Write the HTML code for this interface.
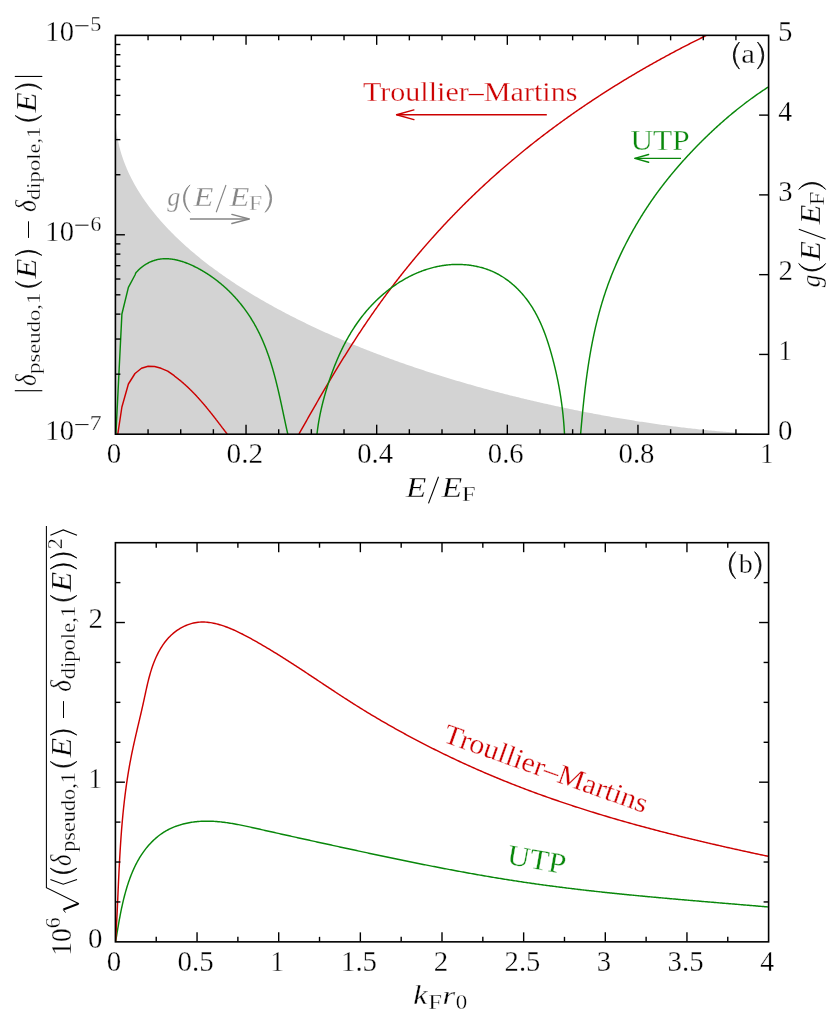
<!DOCTYPE html>
<html><head><meta charset="utf-8"><title>chart</title>
<style>html,body{margin:0;padding:0;background:#fff;width:830px;height:1015px;overflow:hidden;}svg{display:block;will-change:transform;}text{font-family:'Liberation Serif', serif;}</style></head><body>
<svg width="830" height="1015" viewBox="0 0 830 1015">
<rect width="830" height="1015" fill="#fff"/>
<clipPath id="ca"><rect x="115.4" y="35.35" width="653.2" height="398.85"/></clipPath>
<g clip-path="url(#ca)">
<path d="M115.4,434.2 L115.4,115.12 L115.4,115.7 L115.41,116.77 L115.44,118.14 L115.49,119.77 L115.57,121.62 L115.62,122.6 L115.69,123.67 L115.84,125.7 L115.86,125.89 L116.06,128.07 L116.09,128.28 L116.29,130.08 L116.38,130.82 L116.51,131.84 L116.73,133.44 L116.74,133.51 L116.95,134.9 L117.17,136.27 L117.18,136.33 L117.39,137.55 L117.61,138.76 L117.71,139.29 L117.84,139.91 L118.06,141.01 L118.28,142.07 L118.34,142.36 L118.5,143.09 L118.72,144.07 L118.94,145.01 L119.07,145.56 L119.16,145.93 L119.39,146.82 L119.61,147.69 L119.83,148.53 L119.92,148.87 L120.05,149.36 L120.27,150.16 L120.49,150.95 L120.71,151.71 L120.89,152.3 L120.94,152.47 L121.16,153.2 L121.38,153.93 L121.6,154.64 L121.82,155.33 L121.98,155.82 L122.04,156.02 L122.26,156.69 L122.49,157.36 L122.71,158.01 L122.93,158.65 L123.15,159.28 L123.21,159.45 L123.37,159.91 L123.59,160.52 L123.81,161.13 L124.04,161.73 L124.26,162.32 L124.48,162.9 L124.59,163.18 L124.7,163.48 L124.92,164.05 L125.14,164.61 L125.36,165.17 L125.59,165.72 L125.81,166.26 L126.03,166.8 L126.11,167.01 L126.25,167.33 L126.47,167.86 L126.69,168.38 L126.91,168.9 L127.14,169.41 L127.36,169.92 L127.58,170.42 L127.8,170.92 L127.8,170.92 L128.02,171.41 L128.24,171.9 L128.46,172.38 L129.66,174.93 L130.07,175.77 L131.67,178.98 L131.69,179.02 L133.28,182.02 L133.91,183.19 L134.88,184.93 L136.32,187.44 L136.49,187.72 L138.09,190.4 L138.94,191.77 L139.69,192.98 L141.3,195.48 L141.76,196.18 L142.9,197.9 L144.51,200.24 L144.8,200.65 L146.11,202.52 L147.72,204.73 L148.06,205.2 L149.32,206.89 L150.92,209 L152.53,211.05 L154.13,213.06 L155.74,215.03 L157.34,216.95 L158.95,218.84 L160.55,220.69 L162.16,222.5 L163.76,224.28 L165.36,226.03 L166.97,227.75 L168.57,229.44 L170.18,231.1 L171.78,232.74 L173.39,234.35 L174.99,235.94 L176.59,237.5 L178.2,239.04 L179.8,240.56 L181.41,242.06 L183.01,243.54 L184.62,244.99 L186.22,246.43 L187.82,247.86 L189.43,249.26 L191.03,250.65 L192.64,252.02 L194.24,253.37 L195.85,254.71 L197.45,256.03 L199.06,257.34 L200.66,258.64 L202.26,259.92 L203.87,261.19 L205.47,262.44 L207.08,263.68 L208.68,264.91 L210.29,266.13 L211.89,267.33 L213.49,268.52 L215.1,269.7 L216.7,270.87 L218.31,272.03 L219.91,273.18 L221.52,274.32 L223.12,275.45 L224.73,276.57 L226.33,277.67 L227.93,278.77 L229.54,279.86 L231.14,280.94 L232.75,282.01 L234.35,283.07 L235.96,284.13 L237.56,285.17 L239.16,286.21 L240.77,287.23 L242.37,288.25 L243.98,289.27 L245.58,290.27 L247.19,291.27 L248.79,292.25 L250.39,293.24 L252,294.21 L253.6,295.18 L255.21,296.14 L256.81,297.09 L258.42,298.03 L260.02,298.97 L261.63,299.91 L263.23,300.83 L264.83,301.75 L266.44,302.66 L268.04,303.57 L269.65,304.47 L271.25,305.36 L272.86,306.25 L274.46,307.14 L276.06,308.01 L277.67,308.88 L279.27,309.75 L280.88,310.61 L282.48,311.46 L284.09,312.31 L285.69,313.15 L287.29,313.99 L288.9,314.82 L290.5,315.65 L292.11,316.47 L293.71,317.29 L295.32,318.1 L296.92,318.91 L298.53,319.71 L300.13,320.5 L301.73,321.3 L303.34,322.08 L304.94,322.87 L306.55,323.64 L308.15,324.42 L309.76,325.19 L311.36,325.95 L312.96,326.71 L314.57,327.47 L316.17,328.22 L317.78,328.96 L319.38,329.71 L320.99,330.44 L322.59,331.18 L324.19,331.91 L325.8,332.63 L327.4,333.36 L329.01,334.07 L330.61,334.79 L332.22,335.5 L333.82,336.2 L335.43,336.91 L337.03,337.6 L338.63,338.3 L340.24,338.99 L341.84,339.68 L343.45,340.36 L345.05,341.04 L346.66,341.71 L348.26,342.39 L349.86,343.05 L351.47,343.72 L353.07,344.38 L354.68,345.04 L356.28,345.69 L357.89,346.34 L359.49,346.99 L361.09,347.64 L362.7,348.28 L364.3,348.91 L365.91,349.55 L367.51,350.18 L369.12,350.81 L370.72,351.43 L372.33,352.05 L373.93,352.67 L375.53,353.29 L377.14,353.9 L378.74,354.51 L380.35,355.11 L381.95,355.71 L383.56,356.31 L385.16,356.91 L386.76,357.5 L388.37,358.09 L389.97,358.68 L391.58,359.27 L393.18,359.85 L394.79,360.43 L396.39,361 L397.99,361.57 L399.6,362.14 L401.2,362.71 L402.81,363.27 L404.41,363.84 L406.02,364.4 L407.62,364.95 L409.23,365.5 L410.83,366.05 L412.43,366.6 L414.04,367.15 L415.64,367.69 L417.25,368.23 L418.85,368.77 L420.46,369.3 L422.06,369.83 L423.66,370.36 L425.27,370.89 L426.87,371.41 L428.48,371.93 L430.08,372.45 L431.69,372.97 L433.29,373.48 L434.9,373.99 L436.5,374.5 L438.1,375.01 L439.71,375.51 L441.31,376.01 L442.92,376.51 L444.52,377.01 L446.13,377.5 L447.73,377.99 L449.33,378.48 L450.94,378.97 L452.54,379.45 L454.15,379.93 L455.75,380.41 L457.36,380.89 L458.96,381.37 L460.56,381.84 L462.17,382.31 L463.77,382.78 L465.38,383.24 L466.98,383.71 L468.59,384.17 L470.19,384.62 L471.8,385.08 L473.4,385.54 L475,385.99 L476.61,386.44 L478.21,386.88 L479.82,387.33 L481.42,387.77 L483.03,388.21 L484.63,388.65 L486.23,389.09 L487.84,389.52 L489.44,389.96 L491.05,390.39 L492.65,390.81 L494.26,391.24 L495.86,391.66 L497.46,392.08 L499.07,392.5 L500.67,392.92 L502.28,393.33 L503.88,393.75 L505.49,394.16 L507.09,394.57 L508.7,394.97 L510.3,395.38 L511.9,395.78 L513.51,396.18 L515.11,396.58 L516.72,396.98 L518.32,397.37 L519.93,397.76 L521.53,398.15 L523.13,398.54 L524.74,398.93 L526.34,399.31 L527.95,399.69 L529.55,400.07 L531.16,400.45 L532.76,400.83 L534.36,401.2 L535.97,401.57 L537.57,401.94 L539.18,402.31 L540.78,402.68 L542.39,403.04 L543.99,403.4 L545.6,403.76 L547.2,404.12 L548.8,404.48 L550.41,404.83 L552.01,405.19 L553.62,405.54 L555.22,405.88 L556.83,406.23 L558.43,406.58 L560.03,406.92 L561.64,407.26 L563.24,407.6 L564.85,407.93 L566.45,408.27 L568.06,408.6 L569.66,408.93 L571.26,409.26 L572.87,409.59 L574.47,409.92 L576.08,410.24 L577.68,410.56 L579.29,410.88 L580.89,411.2 L582.5,411.51 L584.1,411.83 L585.7,412.14 L587.31,412.45 L588.91,412.76 L590.52,413.06 L592.12,413.37 L593.73,413.67 L595.33,413.97 L596.93,414.27 L598.54,414.57 L600.14,414.86 L601.75,415.16 L603.35,415.45 L604.96,415.74 L606.56,416.02 L608.16,416.31 L609.77,416.59 L611.37,416.88 L612.98,417.16 L614.58,417.43 L616.19,417.71 L617.79,417.98 L619.4,418.26 L621,418.53 L622.6,418.8 L624.21,419.06 L625.81,419.33 L627.42,419.59 L629.02,419.85 L630.63,420.11 L632.23,420.37 L633.83,420.62 L635.44,420.88 L637.04,421.13 L638.65,421.38 L640.25,421.63 L641.86,421.87 L643.46,422.12 L645.06,422.36 L646.67,422.6 L648.27,422.84 L649.88,423.07 L651.48,423.31 L653.09,423.54 L654.69,423.77 L656.3,424 L657.9,424.22 L659.5,424.45 L661.11,424.67 L662.71,424.89 L664.32,425.11 L665.92,425.32 L667.53,425.54 L669.13,425.75 L670.73,425.96 L672.34,426.17 L673.94,426.38 L675.55,426.58 L677.15,426.78 L678.76,426.98 L680.36,427.18 L681.97,427.38 L683.57,427.57 L685.17,427.76 L686.78,427.95 L688.38,428.14 L689.99,428.33 L691.59,428.51 L693.2,428.69 L694.8,428.87 L696.4,429.05 L698.01,429.22 L699.61,429.4 L701.22,429.57 L702.82,429.73 L704.43,429.9 L706.03,430.06 L707.63,430.22 L709.24,430.38 L710.84,430.54 L712.45,430.69 L714.05,430.85 L715.66,431 L717.26,431.14 L718.87,431.29 L720.47,431.43 L722.07,431.57 L723.68,431.71 L725.28,431.84 L726.89,431.97 L728.49,432.1 L730.1,432.23 L731.7,432.35 L733.3,432.47 L734.91,432.59 L736.51,432.7 L738.12,432.82 L739.72,432.92 L741.33,433.03 L742.93,433.13 L744.53,433.23 L746.14,433.33 L747.74,433.42 L749.35,433.51 L750.95,433.59 L752.56,433.67 L754.16,433.75 L755.77,433.82 L757.37,433.89 L758.97,433.96 L760.58,434.02 L762.18,434.07 L763.79,434.11 L765.39,434.15 L767,434.18 L768.6,434.2 L768.6,434.2Z" fill="#d3d3d3" stroke="none"/>
<path d="M117.8,434.2 L121.9,407 L128.4,384 L135,373.5 L141.5,368.2 L148.1,366.3 L154.6,366.5 L161.1,368.3 L167.7,371.1 L174.2,375.7 L174.83,376.34 L175.03,376.49 L175.23,376.64 L175.43,376.79 L175.63,376.93 L175.83,377.08 L176.02,377.23 L176.22,377.38 L176.42,377.53 L176.62,377.68 L176.81,377.83 L177.01,377.98 L177.2,378.13 L177.4,378.29 L177.59,378.44 L177.79,378.59 L177.98,378.74 L178.18,378.9 L178.37,379.05 L178.57,379.2 L178.76,379.36 L178.95,379.51 L179.15,379.67 L179.34,379.82 L179.53,379.98 L179.72,380.13 L179.91,380.29 L180.1,380.44 L180.3,380.6 L180.49,380.76 L180.68,380.91 L180.87,381.07 L181.06,381.23 L181.25,381.39 L181.43,381.55 L181.62,381.71 L181.81,381.86 L182,382.02 L182.19,382.18 L182.38,382.34 L182.56,382.5 L182.75,382.67 L182.94,382.83 L183.12,382.99 L183.31,383.15 L183.5,383.31 L183.68,383.47 L183.87,383.64 L184.05,383.8 L184.24,383.96 L184.42,384.13 L184.61,384.29 L184.79,384.45 L184.98,384.62 L185.16,384.78 L185.34,384.95 L185.52,385.11 L185.71,385.28 L185.89,385.44 L186.07,385.61 L186.25,385.78 L186.44,385.94 L186.62,386.11 L186.8,386.28 L186.98,386.45 L187.16,386.61 L187.34,386.78 L187.52,386.95 L187.7,387.12 L187.88,387.29 L188.06,387.46 L188.24,387.63 L188.42,387.8 L188.6,387.97 L188.78,388.14 L188.95,388.31 L189.13,388.48 L189.31,388.65 L189.49,388.82 L189.66,388.99 L189.84,389.16 L190.02,389.34 L190.19,389.51 L190.37,389.68 L190.55,389.85 L190.72,390.03 L190.9,390.2 L191.07,390.37 L191.25,390.55 L191.42,390.72 L191.6,390.9 L191.77,391.07 L191.94,391.24 L192.12,391.42 L192.29,391.6 L192.47,391.77 L192.64,391.95 L192.81,392.12 L192.98,392.3 L193.16,392.48 L193.33,392.65 L193.5,392.83 L193.67,393.01 L193.84,393.18 L194.02,393.36 L194.19,393.54 L194.36,393.72 L194.53,393.89 L194.7,394.07 L194.87,394.25 L195.04,394.43 L195.21,394.61 L195.38,394.79 L195.55,394.97 L195.72,395.15 L195.89,395.33 L196.06,395.51 L196.22,395.69 L196.39,395.87 L196.56,396.05 L196.73,396.23 L196.9,396.41 L197.06,396.59 L197.23,396.78 L197.4,396.96 L197.57,397.14 L197.73,397.32 L197.9,397.5 L198.06,397.69 L198.23,397.87 L198.4,398.05 L198.56,398.24 L198.73,398.42 L198.89,398.6 L199.06,398.79 L199.22,398.97 L199.39,399.15 L199.55,399.34 L199.72,399.52 L199.88,399.71 L200.05,399.89 L200.21,400.08 L200.37,400.26 L200.54,400.45 L200.7,400.63 L200.86,400.82 L201.03,401 L201.19,401.19 L201.35,401.37 L201.52,401.56 L201.68,401.75 L201.84,401.93 L202,402.12 L202.16,402.31 L202.33,402.49 L202.49,402.68 L202.65,402.87 L202.81,403.06 L202.97,403.24 L203.13,403.43 L203.29,403.62 L203.45,403.81 L203.61,404 L203.77,404.18 L203.93,404.37 L204.09,404.56 L204.25,404.75 L204.41,404.94 L204.57,405.13 L204.73,405.32 L204.89,405.51 L205.05,405.7 L205.21,405.88 L205.37,406.07 L205.52,406.26 L205.68,406.45 L205.84,406.64 L206,406.83 L206.16,407.02 L206.32,407.22 L206.47,407.41 L206.63,407.6 L206.79,407.79 L206.94,407.98 L207.1,408.17 L207.26,408.36 L207.42,408.55 L207.57,408.74 L207.73,408.93 L207.89,409.13 L208.04,409.32 L208.2,409.51 L208.35,409.7 L208.51,409.89 L208.66,410.08 L208.82,410.28 L208.98,410.47 L209.13,410.66 L209.29,410.85 L209.44,411.05 L209.6,411.24 L209.75,411.43 L209.91,411.62 L210.06,411.82 L210.22,412.01 L210.37,412.2 L210.52,412.4 L210.68,412.59 L210.83,412.78 L210.99,412.97 L211.14,413.17 L211.29,413.36 L211.45,413.56 L211.6,413.75 L211.75,413.94 L211.91,414.14 L212.06,414.33 L212.21,414.52 L212.37,414.72 L212.52,414.91 L212.67,415.11 L212.82,415.3 L212.98,415.49 L213.13,415.69 L213.28,415.88 L213.43,416.08 L213.59,416.27 L213.74,416.47 L213.89,416.66 L214.04,416.86 L214.19,417.05 L214.34,417.24 L214.5,417.44 L214.65,417.63 L214.8,417.83 L214.95,418.02 L215.1,418.22 L215.25,418.41 L215.4,418.61 L215.55,418.8 L215.71,419 L215.86,419.19 L216.01,419.39 L216.16,419.58 L216.31,419.78 L216.46,419.97 L216.61,420.17 L216.76,420.36 L216.91,420.56 L217.06,420.75 L217.21,420.95 L217.36,421.15 L217.51,421.34 L217.66,421.54 L217.81,421.73 L217.96,421.93 L218.11,422.12 L218.26,422.32 L218.41,422.51 L218.56,422.71 L218.71,422.9 L218.86,423.1 L219.01,423.29 L219.15,423.49 L219.3,423.69 L219.45,423.88 L219.6,424.08 L219.75,424.27 L219.9,424.47 L220.05,424.66 L220.2,424.86 L220.35,425.05 L220.5,425.25 L220.64,425.44 L220.79,425.64 L220.94,425.83 L221.09,426.03 L221.24,426.22 L221.39,426.42 L221.54,426.62 L221.68,426.81 L221.83,427.01 L221.98,427.2 L222.13,427.4 L222.28,427.59 L222.42,427.79 L222.57,427.98 L222.72,428.18 L222.87,428.37 L223.02,428.57 L223.17,428.76 L223.31,428.96 L223.46,429.15 L223.61,429.35 L223.76,429.54 L223.9,429.74 L224.05,429.93 L224.2,430.12 L224.35,430.32 L224.5,430.51 L224.64,430.71 L224.79,430.9 L224.94,431.1 L225.09,431.29 L225.23,431.49 L225.38,431.68 L225.53,431.87 L225.68,432.07 L225.83,432.26 L225.97,432.46 L226.12,432.65 L226.27,432.84 L226.42,433.04 L226.56,433.23 L226.71,433.43 L226.86,433.62 L227.01,433.81 L227.15,434.01 L227.3,434.2" fill="none" stroke="#cc0000" stroke-width="1.45" stroke-linejoin="round" stroke-linecap="butt"/>
<path d="M299,434 L299.58,432.98 L300.15,431.96 L300.72,430.94 L301.3,429.93 L301.87,428.91 L302.44,427.89 L303.02,426.87 L303.59,425.85 L304.17,424.83 L304.74,423.82 L305.32,422.8 L305.89,421.78 L306.47,420.77 L307.05,419.75 L307.62,418.73 L308.2,417.72 L308.78,416.7 L309.35,415.69 L309.93,414.67 L310.51,413.66 L311.09,412.64 L311.67,411.63 L312.25,410.61 L312.83,409.6 L313.41,408.59 L313.99,407.57 L314.57,406.56 L315.15,405.55 L315.73,404.54 L316.31,403.53 L316.9,402.51 L317.48,401.5 L318.06,400.49 L318.65,399.48 L319.23,398.47 L319.82,397.46 L320.4,396.46 L320.99,395.45 L321.58,394.44 L322.16,393.43 L322.75,392.43 L323.34,391.42 L323.93,390.41 L324.52,389.41 L325.11,388.4 L325.7,387.4 L326.29,386.39 L326.88,385.39 L327.48,384.38 L328.07,383.38 L328.66,382.38 L329.26,381.38 L329.85,380.38 L330.45,379.37 L331.05,378.37 L331.64,377.37 L332.24,376.37 L332.84,375.38 L333.44,374.38 L334.04,373.38 L334.64,372.38 L335.24,371.39 L335.84,370.39 L336.45,369.39 L337.05,368.4 L337.66,367.4 L338.26,366.41 L338.87,365.42 L339.48,364.42 L340.08,363.43 L340.69,362.44 L341.3,361.45 L341.91,360.46 L342.53,359.47 L343.14,358.48 L343.75,357.49 L344.37,356.5 L344.98,355.52 L345.6,354.53 L346.21,353.54 L346.83,352.56 L347.45,351.57 L348.07,350.59 L348.69,349.61 L349.31,348.62 L349.94,347.64 L350.56,346.66 L351.19,345.68 L351.81,344.7 L352.44,343.72 L353.07,342.74 L353.69,341.77 L354.32,340.79 L354.96,339.81 L355.59,338.84 L356.22,337.86 L356.86,336.89 L357.49,335.92 L358.13,334.94 L358.77,333.97 L359.4,333 L360.04,332.03 L360.69,331.06 L361.33,330.09 L361.97,329.13 L362.62,328.16 L363.26,327.19 L363.91,326.23 L364.56,325.26 L365.21,324.3 L365.86,323.34 L366.51,322.38 L367.16,321.42 L367.82,320.46 L368.47,319.5 L369.13,318.54 L369.79,317.58 L370.45,316.62 L371.11,315.67 L371.77,314.71 L372.43,313.76 L373.1,312.81 L373.76,311.85 L374.43,310.9 L375.1,309.95 L375.77,309 L376.44,308.05 L377.12,307.11 L377.79,306.16 L378.47,305.21 L379.14,304.27 L379.82,303.33 L380.5,302.38 L381.18,301.44 L381.86,300.5 L382.55,299.56 L383.23,298.62 L383.92,297.68 L384.61,296.75 L385.3,295.81 L385.99,294.87 L386.68,293.94 L387.38,293.01 L388.07,292.07 L388.77,291.14 L389.46,290.21 L390.16,289.28 L390.86,288.35 L391.57,287.43 L392.27,286.5 L392.97,285.58 L393.68,284.65 L394.39,283.73 L395.09,282.81 L395.8,281.88 L396.52,280.96 L397.23,280.04 L397.94,279.13 L398.66,278.21 L399.37,277.29 L400.09,276.38 L400.81,275.46 L401.53,274.55 L402.25,273.64 L402.98,272.73 L403.7,271.82 L404.43,270.91 L405.16,270 L405.88,269.09 L406.61,268.19 L407.35,267.28 L408.08,266.38 L408.81,265.47 L409.55,264.57 L410.28,263.67 L411.02,262.77 L411.76,261.87 L412.5,260.97 L413.24,260.08 L413.99,259.18 L414.73,258.29 L415.48,257.39 L416.22,256.5 L416.97,255.61 L417.72,254.72 L418.47,253.83 L419.23,252.94 L419.98,252.06 L420.74,251.17 L421.49,250.29 L422.25,249.4 L423.01,248.52 L423.77,247.64 L424.53,246.76 L425.29,245.88 L426.06,245 L426.82,244.12 L427.59,243.25 L428.36,242.37 L429.13,241.5 L429.9,240.63 L430.67,239.76 L431.44,238.89 L432.22,238.02 L432.99,237.15 L433.77,236.28 L434.55,235.42 L435.33,234.55 L436.11,233.69 L436.89,232.83 L437.67,231.96 L438.46,231.1 L439.25,230.25 L440.03,229.39 L440.82,228.53 L441.61,227.68 L442.4,226.82 L443.19,225.97 L443.99,225.12 L444.78,224.27 L445.58,223.42 L446.38,222.57 L447.18,221.72 L447.98,220.87 L448.78,220.03 L449.58,219.19 L450.38,218.34 L451.19,217.5 L451.99,216.66 L452.8,215.82 L453.61,214.99 L454.42,214.15 L455.23,213.31 L456.04,212.48 L456.86,211.65 L457.67,210.81 L458.49,209.98 L459.31,209.15 L460.13,208.33 L460.95,207.5 L461.77,206.67 L462.59,205.85 L463.41,205.03 L464.24,204.2 L465.07,203.38 L465.89,202.56 L466.72,201.75 L467.55,200.93 L468.38,200.11 L469.22,199.3 L470.05,198.49 L470.88,197.67 L471.72,196.86 L472.56,196.05 L473.4,195.24 L474.24,194.44 L475.08,193.63 L475.92,192.83 L476.76,192.02 L477.61,191.22 L478.45,190.42 L479.3,189.62 L480.15,188.82 L481,188.03 L481.85,187.23 L482.7,186.44 L483.55,185.64 L484.41,184.85 L485.26,184.06 L486.12,183.27 L486.98,182.48 L487.84,181.7 L488.7,180.91 L489.56,180.13 L490.42,179.34 L491.28,178.56 L492.15,177.78 L493.02,177 L493.88,176.23 L494.75,175.45 L495.62,174.67 L496.49,173.9 L497.36,173.13 L498.24,172.36 L499.11,171.59 L499.99,170.82 L500.86,170.05 L501.74,169.28 L502.62,168.52 L503.5,167.75 L504.38,166.99 L505.26,166.23 L506.14,165.47 L507.03,164.71 L507.91,163.95 L508.8,163.2 L509.69,162.44 L510.57,161.69 L511.46,160.93 L512.36,160.18 L513.25,159.43 L514.14,158.68 L515.03,157.94 L515.93,157.19 L516.83,156.44 L517.72,155.7 L518.62,154.96 L519.52,154.22 L520.42,153.48 L521.32,152.74 L522.22,152 L523.13,151.26 L524.03,150.53 L524.94,149.79 L525.84,149.06 L526.75,148.33 L527.66,147.6 L528.57,146.87 L529.48,146.14 L530.39,145.42 L531.31,144.69 L532.22,143.97 L533.13,143.25 L534.05,142.52 L534.97,141.8 L535.89,141.09 L536.8,140.37 L537.72,139.65 L538.65,138.94 L539.57,138.22 L540.49,137.51 L541.41,136.8 L542.34,136.09 L543.26,135.38 L544.19,134.67 L545.12,133.97 L546.05,133.26 L546.98,132.56 L547.91,131.85 L548.84,131.15 L549.77,130.45 L550.71,129.75 L551.64,129.06 L552.58,128.36 L553.51,127.66 L554.45,126.97 L555.39,126.28 L556.33,125.59 L557.27,124.9 L558.21,124.21 L559.15,123.52 L560.09,122.83 L561.04,122.15 L561.98,121.46 L562.93,120.78 L563.87,120.1 L564.82,119.42 L565.77,118.74 L566.72,118.06 L567.67,117.39 L568.62,116.71 L569.57,116.04 L570.52,115.36 L571.48,114.69 L572.43,114.02 L573.39,113.35 L574.34,112.68 L575.3,112.02 L576.26,111.35 L577.22,110.69 L578.18,110.02 L579.14,109.36 L580.1,108.7 L581.06,108.04 L582.02,107.38 L582.99,106.73 L583.95,106.07 L584.92,105.42 L585.88,104.76 L586.85,104.11 L587.82,103.46 L588.79,102.81 L589.76,102.16 L590.73,101.52 L591.7,100.87 L592.67,100.23 L593.64,99.58 L594.62,98.94 L595.59,98.3 L596.57,97.66 L597.54,97.02 L598.52,96.38 L599.5,95.75 L600.47,95.11 L601.45,94.48 L602.43,93.85 L603.41,93.22 L604.4,92.59 L605.38,91.96 L606.36,91.33 L607.35,90.7 L608.33,90.08 L609.32,89.46 L610.3,88.83 L611.29,88.21 L612.28,87.59 L613.26,86.97 L614.25,86.35 L615.24,85.74 L616.23,85.12 L617.22,84.51 L618.22,83.9 L619.21,83.28 L620.2,82.67 L621.2,82.07 L622.19,81.46 L623.19,80.85 L624.18,80.24 L625.18,79.64 L626.18,79.04 L627.17,78.44 L628.17,77.83 L629.17,77.24 L630.17,76.64 L631.17,76.04 L632.18,75.44 L633.18,74.85 L634.18,74.26 L635.18,73.66 L636.19,73.07 L637.19,72.48 L638.2,71.89 L639.21,71.31 L640.21,70.72 L641.22,70.14 L642.23,69.55 L643.24,68.97 L644.25,68.39 L645.26,67.81 L646.27,67.23 L647.28,66.65 L648.29,66.08 L649.3,65.5 L650.32,64.93 L651.33,64.35 L652.35,63.78 L653.36,63.21 L654.38,62.64 L655.39,62.07 L656.41,61.51 L657.43,60.94 L658.44,60.38 L659.46,59.81 L660.48,59.25 L661.5,58.69 L662.52,58.13 L663.54,57.57 L664.57,57.02 L665.59,56.46 L666.61,55.9 L667.63,55.35 L668.66,54.8 L669.68,54.25 L670.71,53.7 L671.73,53.15 L672.76,52.6 L673.78,52.05 L674.81,51.51 L675.84,50.96 L676.87,50.42 L677.9,49.88 L678.92,49.34 L679.95,48.8 L680.98,48.26 L682.01,47.73 L683.05,47.19 L684.08,46.66 L685.11,46.12 L686.14,45.59 L687.18,45.06 L688.21,44.53 L689.24,44 L690.28,43.47 L691.31,42.95 L692.35,42.42 L693.39,41.9 L694.42,41.38 L695.46,40.85 L696.5,40.33 L697.54,39.82 L698.57,39.3 L699.61,38.78 L700.65,38.27 L701.69,37.75 L702.73,37.24 L703.77,36.73 L704.81,36.22 L705.86,35.71 L706.9,35.2" fill="none" stroke="#cc0000" stroke-width="1.45" stroke-linejoin="round" stroke-linecap="butt"/>
<path d="M115.9,434.2 L121.9,314 L128.4,287.4 L135,275 L135.76,273.04 L136.16,272.57 L136.57,272.09 L136.98,271.63 L137.4,271.17 L137.83,270.72 L138.26,270.28 L138.7,269.84 L139.15,269.41 L139.61,268.99 L140.07,268.57 L140.54,268.16 L141.01,267.76 L141.49,267.37 L141.97,266.98 L142.46,266.61 L142.96,266.24 L143.46,265.87 L143.96,265.52 L144.47,265.18 L144.99,264.84 L145.51,264.51 L146.03,264.19 L146.56,263.88 L147.09,263.57 L147.62,263.28 L148.16,262.99 L148.7,262.71 L149.25,262.44 L149.8,262.18 L150.35,261.93 L150.9,261.69 L151.46,261.46 L152.01,261.23 L152.58,261.02 L153.14,260.82 L153.7,260.62 L154.27,260.44 L154.84,260.26 L155.4,260.09 L155.97,259.94 L156.55,259.79 L157.12,259.66 L157.69,259.53 L158.27,259.41 L158.84,259.31 L159.42,259.21 L159.99,259.12 L160.57,259.04 L161.15,258.97 L161.73,258.9 L162.31,258.85 L162.89,258.81 L163.47,258.77 L164.06,258.74 L164.64,258.72 L165.22,258.71 L165.81,258.71 L166.39,258.72 L166.98,258.73 L167.56,258.75 L168.15,258.78 L168.74,258.82 L169.32,258.86 L169.91,258.91 L170.5,258.97 L171.08,259.04 L171.67,259.11 L172.26,259.19 L172.85,259.28 L173.44,259.38 L174.03,259.48 L174.62,259.58 L175.2,259.7 L175.79,259.82 L176.38,259.95 L176.97,260.08 L177.56,260.22 L178.15,260.37 L178.73,260.52 L179.32,260.68 L179.91,260.84 L180.5,261.01 L181.09,261.18 L181.67,261.36 L182.26,261.55 L182.84,261.74 L183.43,261.93 L184.02,262.13 L184.6,262.34 L185.18,262.55 L185.77,262.77 L186.35,262.99 L186.93,263.21 L187.51,263.44 L188.09,263.67 L188.67,263.91 L189.25,264.15 L189.83,264.4 L190.41,264.64 L190.99,264.9 L191.56,265.15 L192.14,265.42 L192.71,265.68 L193.28,265.95 L193.86,266.22 L194.43,266.5 L195,266.77 L195.56,267.06 L196.13,267.34 L196.7,267.63 L197.26,267.92 L197.83,268.22 L198.39,268.52 L198.95,268.82 L199.51,269.13 L200.07,269.43 L200.62,269.75 L201.18,270.06 L201.73,270.38 L202.28,270.7 L202.83,271.02 L203.38,271.35 L203.93,271.68 L204.48,272.01 L205.02,272.34 L205.56,272.68 L206.1,273.02 L206.64,273.36 L207.18,273.7 L207.71,274.05 L208.24,274.4 L208.77,274.75 L209.3,275.1 L209.83,275.46 L210.35,275.81 L210.88,276.17 L211.4,276.53 L211.92,276.9 L212.43,277.26 L212.95,277.63 L213.46,278 L213.97,278.37 L214.48,278.75 L214.98,279.12 L215.49,279.5 L215.99,279.88 L216.49,280.26 L216.98,280.64 L217.48,281.03 L217.97,281.42 L218.46,281.81 L218.95,282.2 L219.44,282.59 L219.93,282.99 L220.41,283.38 L220.89,283.78 L221.37,284.18 L221.84,284.59 L222.32,284.99 L222.79,285.4 L223.26,285.81 L223.73,286.22 L224.2,286.63 L224.66,287.04 L225.12,287.46 L225.58,287.88 L226.04,288.3 L226.5,288.72 L226.95,289.14 L227.4,289.56 L227.85,289.99 L228.3,290.42 L228.75,290.85 L229.19,291.28 L229.63,291.71 L230.07,292.15 L230.51,292.59 L230.94,293.03 L231.38,293.47 L231.81,293.91 L232.24,294.35 L232.66,294.8 L233.09,295.24 L233.51,295.69 L233.93,296.14 L234.35,296.6 L234.77,297.05 L235.18,297.5 L235.59,297.96 L236,298.42 L236.41,298.88 L236.82,299.34 L237.22,299.8 L237.62,300.27 L238.02,300.74 L238.42,301.2 L238.82,301.67 L239.21,302.14 L239.6,302.62 L239.99,303.09 L240.38,303.57 L240.77,304.04 L241.15,304.52 L241.53,305 L241.91,305.48 L242.29,305.97 L242.66,306.45 L243.04,306.94 L243.41,307.43 L243.78,307.91 L244.14,308.4 L244.51,308.9 L244.87,309.39 L245.23,309.88 L245.59,310.38 L245.95,310.88 L246.3,311.38 L246.66,311.88 L247.01,312.38 L247.36,312.88 L247.7,313.38 L248.05,313.89 L248.39,314.4 L248.73,314.9 L249.07,315.41 L249.4,315.92 L249.74,316.44 L250.07,316.95 L250.4,317.46 L250.73,317.98 L251.06,318.5 L251.38,319.01 L251.7,319.53 L252.02,320.05 L252.34,320.58 L252.66,321.1 L252.97,321.62 L253.28,322.15 L253.59,322.68 L253.9,323.2 L254.21,323.73 L254.51,324.26 L254.81,324.79 L255.11,325.33 L255.41,325.86 L255.7,326.39 L256,326.93 L256.29,327.47 L256.58,328 L256.86,328.54 L257.15,329.08 L257.43,329.63 L257.71,330.17 L257.99,330.71 L258.27,331.26 L258.55,331.8 L258.82,332.35 L259.09,332.9 L259.36,333.44 L259.63,333.99 L259.89,334.54 L260.16,335.1 L260.42,335.65 L260.68,336.2 L260.93,336.76 L261.19,337.31 L261.44,337.87 L261.69,338.42 L261.94,338.98 L262.19,339.54 L262.44,340.1 L262.68,340.66 L262.93,341.22 L263.17,341.79 L263.41,342.35 L263.64,342.91 L263.88,343.48 L264.11,344.05 L264.34,344.61 L264.57,345.18 L264.8,345.75 L265.03,346.32 L265.26,346.89 L265.48,347.46 L265.7,348.03 L265.92,348.6 L266.14,349.18 L266.36,349.75 L266.57,350.33 L266.79,350.9 L267,351.48 L267.21,352.06 L267.42,352.63 L267.63,353.21 L267.84,353.79 L268.04,354.37 L268.24,354.95 L268.45,355.53 L268.65,356.11 L268.85,356.7 L269.04,357.28 L269.24,357.86 L269.44,358.45 L269.63,359.03 L269.82,359.62 L270.01,360.21 L270.2,360.79 L270.39,361.38 L270.58,361.97 L270.76,362.56 L270.95,363.15 L271.13,363.74 L271.31,364.33 L271.49,364.92 L271.67,365.51 L271.85,366.1 L272.03,366.69 L272.21,367.29 L272.38,367.88 L272.55,368.47 L272.73,369.07 L272.9,369.66 L273.07,370.26 L273.24,370.85 L273.41,371.45 L273.57,372.05 L273.74,372.64 L273.91,373.24 L274.07,373.84 L274.23,374.44 L274.39,375.04 L274.56,375.63 L274.72,376.23 L274.88,376.83 L275.03,377.43 L275.19,378.03 L275.35,378.64 L275.5,379.24 L275.66,379.84 L275.81,380.44 L275.97,381.04 L276.12,381.64 L276.27,382.25 L276.42,382.85 L276.57,383.45 L276.72,384.06 L276.87,384.66 L277.01,385.26 L277.16,385.87 L277.31,386.47 L277.45,387.08 L277.6,387.68 L277.74,388.29 L277.89,388.89 L278.03,389.5 L278.17,390.1 L278.31,390.71 L278.45,391.32 L278.59,391.92 L278.73,392.53 L278.87,393.13 L279.01,393.74 L279.15,394.35 L279.29,394.95 L279.42,395.56 L279.56,396.17 L279.7,396.77 L279.83,397.38 L279.97,397.99 L280.1,398.6 L280.24,399.2 L280.37,399.81 L280.5,400.42 L280.64,401.02 L280.77,401.63 L280.9,402.24 L281.04,402.85 L281.17,403.45 L281.3,404.06 L281.43,404.67 L281.56,405.27 L281.69,405.88 L281.82,406.49 L281.95,407.1 L282.08,407.7 L282.21,408.31 L282.34,408.92 L282.47,409.52 L282.6,410.13 L282.73,410.74 L282.86,411.34 L282.99,411.95 L283.12,412.55 L283.25,413.16 L283.37,413.77 L283.5,414.37 L283.63,414.98 L283.76,415.58 L283.89,416.19 L284.02,416.79 L284.14,417.4 L284.27,418 L284.4,418.6 L284.53,419.21 L284.66,419.81 L284.79,420.41 L284.92,421.02 L285.05,421.62 L285.17,422.22 L285.3,422.83 L285.43,423.43 L285.56,424.03 L285.69,424.63 L285.82,425.23 L285.95,425.83 L286.08,426.43 L286.21,427.03 L286.34,427.63 L286.47,428.23 L286.6,428.83 L286.74,429.43 L286.87,430.03 L287,430.62 L287.13,431.22 L287.27,431.82 L287.4,432.41 L287.53,433.01 L287.67,433.6 L287.8,434.2" fill="none" stroke="#08870a" stroke-width="1.45" stroke-linejoin="round" stroke-linecap="butt"/>
<path d="M317,434.2 L317.1,433.29 L317.2,432.39 L317.31,431.48 L317.42,430.57 L317.53,429.67 L317.65,428.76 L317.78,427.85 L317.91,426.94 L318.04,426.03 L318.17,425.13 L318.31,424.22 L318.46,423.31 L318.61,422.4 L318.76,421.49 L318.92,420.58 L319.08,419.68 L319.24,418.77 L319.41,417.86 L319.58,416.95 L319.76,416.04 L319.94,415.14 L320.12,414.23 L320.31,413.32 L320.5,412.41 L320.69,411.51 L320.89,410.6 L321.09,409.69 L321.29,408.79 L321.5,407.88 L321.71,406.97 L321.93,406.07 L322.15,405.16 L322.37,404.26 L322.59,403.35 L322.82,402.45 L323.05,401.55 L323.29,400.65 L323.52,399.74 L323.76,398.84 L324.01,397.94 L324.25,397.04 L324.5,396.14 L324.76,395.24 L325.01,394.34 L325.27,393.45 L325.53,392.55 L325.79,391.65 L326.06,390.76 L326.33,389.86 L326.6,388.97 L326.88,388.08 L327.15,387.18 L327.43,386.29 L327.71,385.4 L328,384.51 L328.29,383.62 L328.58,382.74 L328.87,381.85 L329.16,380.97 L329.46,380.08 L329.76,379.2 L330.06,378.32 L330.36,377.44 L330.67,376.56 L330.98,375.68 L331.29,374.8 L331.61,373.92 L331.92,373.05 L332.24,372.17 L332.56,371.3 L332.89,370.43 L333.22,369.56 L333.55,368.69 L333.88,367.83 L334.21,366.96 L334.55,366.1 L334.89,365.23 L335.24,364.37 L335.59,363.51 L335.94,362.66 L336.29,361.8 L336.65,360.94 L337,360.09 L337.37,359.24 L337.73,358.39 L338.1,357.54 L338.47,356.69 L338.84,355.85 L339.22,355.01 L339.6,354.16 L339.99,353.32 L340.37,352.49 L340.76,351.65 L341.16,350.82 L341.56,349.98 L341.96,349.15 L342.36,348.32 L342.77,347.5 L343.18,346.67 L343.59,345.85 L344.01,345.03 L344.43,344.21 L344.86,343.4 L345.28,342.58 L345.72,341.77 L346.15,340.96 L346.59,340.15 L347.03,339.35 L347.48,338.54 L347.93,337.74 L348.38,336.94 L348.84,336.15 L349.3,335.35 L349.77,334.56 L350.24,333.77 L350.71,332.98 L351.19,332.2 L351.67,331.42 L352.15,330.64 L352.64,329.86 L353.13,329.08 L353.63,328.31 L354.13,327.54 L354.64,326.77 L355.15,326.01 L355.66,325.25 L356.18,324.49 L356.7,323.73 L357.23,322.98 L357.76,322.23 L358.29,321.48 L358.83,320.73 L359.37,319.99 L359.92,319.25 L360.47,318.51 L361.03,317.78 L361.59,317.04 L362.16,316.31 L362.73,315.59 L363.3,314.87 L363.88,314.15 L364.46,313.43 L365.05,312.72 L365.64,312 L366.24,311.3 L366.84,310.59 L367.45,309.89 L368.06,309.19 L368.68,308.5 L369.3,307.81 L369.92,307.12 L370.55,306.43 L371.19,305.75 L371.82,305.07 L372.47,304.4 L373.11,303.73 L373.77,303.06 L374.42,302.4 L375.08,301.74 L375.75,301.08 L376.41,300.43 L377.09,299.78 L377.76,299.14 L378.44,298.5 L379.13,297.87 L379.82,297.24 L380.51,296.61 L381.21,295.99 L381.91,295.37 L382.62,294.75 L383.32,294.15 L384.04,293.54 L384.75,292.94 L385.47,292.35 L386.2,291.76 L386.93,291.17 L387.66,290.59 L388.39,290.01 L389.13,289.44 L389.88,288.87 L390.62,288.31 L391.37,287.76 L392.13,287.2 L392.88,286.66 L393.64,286.12 L394.41,285.58 L395.18,285.05 L395.95,284.53 L396.72,284.01 L397.5,283.49 L398.28,282.99 L399.06,282.48 L399.85,281.99 L400.64,281.49 L401.44,281.01 L402.23,280.53 L403.03,280.06 L403.84,279.59 L404.64,279.13 L405.45,278.67 L406.27,278.22 L407.08,277.78 L407.9,277.34 L408.72,276.91 L409.55,276.48 L410.37,276.07 L411.21,275.65 L412.04,275.25 L412.87,274.85 L413.71,274.46 L414.55,274.07 L415.4,273.69 L416.24,273.32 L417.09,272.95 L417.95,272.6 L418.8,272.24 L419.66,271.9 L420.52,271.56 L421.38,271.23 L422.24,270.91 L423.11,270.59 L423.98,270.28 L424.85,269.98 L425.73,269.69 L426.6,269.4 L427.48,269.12 L428.36,268.85 L429.25,268.58 L430.13,268.33 L431.02,268.08 L431.91,267.84 L432.8,267.6 L433.7,267.38 L434.59,267.16 L435.49,266.95 L436.39,266.75 L437.29,266.55 L438.2,266.37 L439.1,266.19 L440.01,266.02 L440.92,265.86 L441.83,265.71 L442.75,265.56 L443.66,265.43 L444.58,265.3 L445.5,265.18 L446.42,265.07 L447.34,264.97 L448.26,264.88 L449.19,264.79 L450.11,264.72 L451.04,264.65 L451.97,264.59 L452.9,264.54 L453.83,264.5 L454.76,264.47 L455.69,264.45 L456.62,264.44 L457.55,264.43 L458.48,264.44 L459.42,264.45 L460.35,264.47 L461.28,264.51 L462.21,264.55 L463.14,264.6 L464.07,264.66 L465,264.72 L465.93,264.8 L466.86,264.89 L467.79,264.99 L468.71,265.09 L469.63,265.21 L470.56,265.33 L471.48,265.46 L472.4,265.61 L473.31,265.76 L474.23,265.92 L475.14,266.09 L476.05,266.27 L476.96,266.47 L477.86,266.67 L478.77,266.88 L479.67,267.1 L480.56,267.33 L481.46,267.56 L482.35,267.81 L483.24,268.07 L484.12,268.34 L485,268.62 L485.88,268.91 L486.75,269.2 L487.62,269.51 L488.48,269.83 L489.34,270.16 L490.2,270.5 L491.05,270.84 L491.9,271.2 L492.74,271.57 L493.58,271.95 L494.41,272.34 L495.24,272.73 L496.06,273.14 L496.87,273.56 L497.69,273.99 L498.49,274.43 L499.29,274.87 L500.09,275.33 L500.88,275.8 L501.66,276.27 L502.44,276.75 L503.22,277.25 L503.99,277.75 L504.75,278.26 L505.51,278.78 L506.26,279.31 L507.01,279.84 L507.75,280.39 L508.48,280.94 L509.21,281.5 L509.93,282.07 L510.65,282.65 L511.37,283.23 L512.07,283.83 L512.77,284.43 L513.47,285.03 L514.16,285.65 L514.84,286.27 L515.52,286.9 L516.19,287.53 L516.85,288.18 L517.51,288.83 L518.17,289.48 L518.81,290.14 L519.45,290.81 L520.09,291.49 L520.72,292.17 L521.34,292.86 L521.95,293.55 L522.56,294.25 L523.17,294.95 L523.76,295.66 L524.35,296.38 L524.94,297.1 L525.52,297.83 L526.09,298.56 L526.65,299.29 L527.21,300.04 L527.76,300.78 L528.31,301.53 L528.85,302.29 L529.38,303.05 L529.9,303.81 L530.42,304.58 L530.93,305.35 L531.44,306.13 L531.94,306.91 L532.43,307.7 L532.91,308.49 L533.39,309.28 L533.86,310.07 L534.33,310.87 L534.79,311.68 L535.25,312.48 L535.69,313.29 L536.14,314.11 L536.57,314.93 L537.01,315.75 L537.43,316.57 L537.85,317.4 L538.26,318.23 L538.67,319.06 L539.08,319.9 L539.47,320.73 L539.87,321.58 L540.26,322.42 L540.64,323.27 L541.02,324.12 L541.39,324.97 L541.76,325.82 L542.12,326.68 L542.48,327.54 L542.83,328.4 L543.18,329.26 L543.53,330.13 L543.87,331 L544.2,331.87 L544.53,332.74 L544.86,333.61 L545.18,334.49 L545.5,335.36 L545.82,336.24 L546.13,337.12 L546.44,338 L546.74,338.89 L547.04,339.77 L547.34,340.66 L547.63,341.54 L547.92,342.43 L548.21,343.32 L548.49,344.21 L548.77,345.1 L549.05,345.99 L549.32,346.89 L549.59,347.78 L549.86,348.67 L550.13,349.57 L550.39,350.47 L550.65,351.36 L550.9,352.26 L551.16,353.15 L551.41,354.05 L551.66,354.95 L551.91,355.85 L552.15,356.74 L552.4,357.64 L552.64,358.54 L552.87,359.44 L553.11,360.34 L553.34,361.23 L553.57,362.13 L553.8,363.03 L554.03,363.93 L554.25,364.83 L554.47,365.73 L554.69,366.63 L554.91,367.53 L555.12,368.43 L555.34,369.33 L555.55,370.23 L555.76,371.13 L555.96,372.03 L556.16,372.93 L556.36,373.84 L556.56,374.74 L556.76,375.64 L556.95,376.54 L557.14,377.45 L557.33,378.35 L557.52,379.25 L557.71,380.16 L557.89,381.06 L558.07,381.96 L558.25,382.87 L558.42,383.77 L558.59,384.68 L558.77,385.58 L558.93,386.49 L559.1,387.4 L559.26,388.3 L559.42,389.21 L559.58,390.12 L559.74,391.02 L559.9,391.93 L560.05,392.84 L560.2,393.75 L560.35,394.66 L560.49,395.57 L560.63,396.48 L560.77,397.39 L560.91,398.3 L561.05,399.21 L561.18,400.12 L561.31,401.03 L561.44,401.95 L561.57,402.86 L561.69,403.77 L561.82,404.69 L561.94,405.6 L562.05,406.52 L562.17,407.43 L562.28,408.35 L562.39,409.26 L562.5,410.18 L562.61,411.1 L562.71,412.01 L562.81,412.93 L562.91,413.85 L563.01,414.77 L563.1,415.69 L563.19,416.61 L563.28,417.53 L563.37,418.45 L563.46,419.37 L563.54,420.3 L563.62,421.22 L563.7,422.14 L563.77,423.07 L563.85,423.99 L563.92,424.92 L563.99,425.84 L564.05,426.77 L564.12,427.69 L564.18,428.62 L564.24,429.55 L564.29,430.48 L564.35,431.41 L564.4,432.34 L564.45,433.27 L564.5,434.2" fill="none" stroke="#08870a" stroke-width="1.45" stroke-linejoin="round" stroke-linecap="butt"/>
<path d="M580.6,434.2 L580.67,433.38 L580.74,432.56 L580.81,431.74 L580.88,430.92 L580.95,430.1 L581.02,429.28 L581.1,428.46 L581.17,427.64 L581.24,426.82 L581.31,425.99 L581.39,425.17 L581.46,424.35 L581.53,423.53 L581.61,422.71 L581.68,421.89 L581.76,421.07 L581.83,420.25 L581.91,419.42 L581.98,418.6 L582.06,417.78 L582.14,416.96 L582.21,416.14 L582.29,415.31 L582.37,414.49 L582.45,413.67 L582.53,412.85 L582.61,412.03 L582.69,411.21 L582.77,410.38 L582.85,409.56 L582.93,408.74 L583.02,407.92 L583.1,407.1 L583.18,406.27 L583.27,405.45 L583.35,404.63 L583.44,403.81 L583.52,402.99 L583.61,402.16 L583.7,401.34 L583.79,400.52 L583.87,399.7 L583.96,398.88 L584.05,398.05 L584.14,397.23 L584.24,396.41 L584.33,395.59 L584.42,394.77 L584.51,393.95 L584.61,393.13 L584.7,392.3 L584.8,391.48 L584.9,390.66 L584.99,389.84 L585.09,389.02 L585.19,388.2 L585.29,387.38 L585.39,386.56 L585.49,385.74 L585.59,384.92 L585.7,384.1 L585.8,383.28 L585.9,382.46 L586.01,381.64 L586.12,380.82 L586.22,380 L586.33,379.18 L586.44,378.36 L586.55,377.54 L586.66,376.72 L586.77,375.9 L586.88,375.08 L587,374.26 L587.11,373.45 L587.23,372.63 L587.34,371.81 L587.46,370.99 L587.58,370.17 L587.7,369.36 L587.82,368.54 L587.94,367.72 L588.06,366.91 L588.19,366.09 L588.31,365.27 L588.44,364.46 L588.57,363.64 L588.69,362.82 L588.82,362.01 L588.95,361.19 L589.08,360.38 L589.22,359.56 L589.35,358.75 L589.48,357.93 L589.62,357.12 L589.76,356.3 L589.89,355.49 L590.03,354.68 L590.17,353.86 L590.32,353.05 L590.46,352.24 L590.6,351.43 L590.75,350.61 L590.89,349.8 L591.04,348.99 L591.19,348.18 L591.34,347.37 L591.49,346.56 L591.65,345.75 L591.8,344.94 L591.96,344.13 L592.11,343.32 L592.27,342.51 L592.43,341.7 L592.59,340.89 L592.75,340.08 L592.92,339.28 L593.08,338.47 L593.25,337.66 L593.42,336.86 L593.58,336.05 L593.76,335.24 L593.93,334.44 L594.1,333.63 L594.28,332.83 L594.45,332.02 L594.63,331.22 L594.81,330.41 L594.99,329.61 L595.17,328.81 L595.35,328.01 L595.54,327.2 L595.73,326.4 L595.91,325.6 L596.1,324.8 L596.3,324 L596.49,323.2 L596.68,322.4 L596.88,321.6 L597.08,320.8 L597.28,320 L597.48,319.2 L597.68,318.41 L597.88,317.61 L598.09,316.81 L598.3,316.02 L598.5,315.22 L598.72,314.42 L598.93,313.63 L599.14,312.84 L599.36,312.04 L599.57,311.25 L599.79,310.45 L600.01,309.66 L600.24,308.87 L600.46,308.08 L600.69,307.29 L600.91,306.5 L601.14,305.71 L601.38,304.92 L601.61,304.13 L601.84,303.34 L602.08,302.55 L602.32,301.76 L602.56,300.98 L602.8,300.19 L603.05,299.41 L603.29,298.62 L603.54,297.84 L603.79,297.05 L604.04,296.27 L604.29,295.48 L604.55,294.7 L604.81,293.92 L605.07,293.14 L605.33,292.36 L605.59,291.58 L605.85,290.8 L606.12,290.02 L606.39,289.24 L606.66,288.46 L606.93,287.68 L607.21,286.91 L607.48,286.13 L607.76,285.36 L608.04,284.58 L608.32,283.81 L608.61,283.03 L608.89,282.26 L609.18,281.49 L609.47,280.72 L609.76,279.94 L610.06,279.17 L610.35,278.4 L610.65,277.64 L610.95,276.87 L611.25,276.1 L611.55,275.33 L611.86,274.56 L612.16,273.8 L612.47,273.03 L612.78,272.27 L613.09,271.51 L613.4,270.74 L613.72,269.98 L614.04,269.22 L614.36,268.46 L614.68,267.7 L615,266.94 L615.32,266.18 L615.65,265.42 L615.98,264.66 L616.31,263.9 L616.64,263.15 L616.97,262.39 L617.3,261.64 L617.64,260.88 L617.98,260.13 L618.32,259.38 L618.66,258.63 L619,257.88 L619.35,257.13 L619.69,256.38 L620.04,255.63 L620.39,254.88 L620.74,254.13 L621.1,253.39 L621.45,252.64 L621.81,251.9 L622.17,251.15 L622.53,250.41 L622.89,249.67 L623.25,248.93 L623.62,248.18 L623.99,247.44 L624.36,246.71 L624.73,245.97 L625.1,245.23 L625.47,244.49 L625.85,243.76 L626.22,243.02 L626.6,242.29 L626.98,241.55 L627.36,240.82 L627.74,240.09 L628.13,239.36 L628.52,238.63 L628.9,237.9 L629.29,237.17 L629.68,236.45 L630.08,235.72 L630.47,234.99 L630.87,234.27 L631.26,233.54 L631.66,232.82 L632.06,232.1 L632.46,231.38 L632.87,230.66 L633.27,229.94 L633.68,229.22 L634.09,228.5 L634.5,227.79 L634.91,227.07 L635.32,226.36 L635.73,225.64 L636.15,224.93 L636.57,224.22 L636.99,223.51 L637.41,222.8 L637.83,222.09 L638.25,221.38 L638.67,220.67 L639.1,219.97 L639.53,219.26 L639.96,218.56 L640.39,217.85 L640.82,217.15 L641.25,216.45 L641.69,215.75 L642.12,215.05 L642.56,214.35 L643,213.65 L643.44,212.96 L643.88,212.26 L644.33,211.57 L644.77,210.87 L645.22,210.18 L645.66,209.49 L646.11,208.8 L646.56,208.11 L647.02,207.42 L647.47,206.73 L647.93,206.05 L648.38,205.36 L648.84,204.68 L649.3,203.99 L649.76,203.31 L650.22,202.63 L650.69,201.95 L651.15,201.27 L651.62,200.59 L652.09,199.91 L652.56,199.24 L653.03,198.56 L653.51,197.88 L653.98,197.21 L654.46,196.54 L654.94,195.87 L655.42,195.2 L655.9,194.53 L656.38,193.86 L656.87,193.19 L657.35,192.52 L657.84,191.86 L658.33,191.19 L658.82,190.53 L659.31,189.87 L659.81,189.21 L660.3,188.55 L660.8,187.89 L661.3,187.23 L661.8,186.57 L662.3,185.91 L662.8,185.26 L663.31,184.6 L663.81,183.95 L664.32,183.3 L664.83,182.65 L665.34,182 L665.85,181.35 L666.37,180.7 L666.88,180.05 L667.4,179.4 L667.91,178.76 L668.43,178.11 L668.95,177.47 L669.47,176.83 L670,176.19 L670.52,175.55 L671.05,174.91 L671.57,174.27 L672.1,173.63 L672.63,173 L673.16,172.36 L673.69,171.73 L674.22,171.09 L674.76,170.46 L675.29,169.83 L675.83,169.2 L676.37,168.57 L676.91,167.94 L677.45,167.32 L677.99,166.69 L678.53,166.07 L679.07,165.44 L679.62,164.82 L680.17,164.2 L680.71,163.58 L681.26,162.96 L681.81,162.34 L682.36,161.72 L682.91,161.11 L683.46,160.49 L684.02,159.88 L684.57,159.26 L685.13,158.65 L685.68,158.04 L686.24,157.43 L686.8,156.82 L687.36,156.21 L687.92,155.6 L688.48,155 L689.05,154.39 L689.61,153.79 L690.18,153.19 L690.74,152.58 L691.31,151.98 L691.88,151.38 L692.44,150.79 L693.01,150.19 L693.58,149.59 L694.16,149 L694.73,148.4 L695.3,147.81 L695.88,147.21 L696.45,146.62 L697.03,146.03 L697.61,145.44 L698.18,144.86 L698.76,144.27 L699.34,143.68 L699.92,143.1 L700.5,142.51 L701.09,141.93 L701.67,141.35 L702.25,140.77 L702.84,140.19 L703.42,139.61 L704.01,139.03 L704.6,138.46 L705.18,137.88 L705.77,137.31 L706.36,136.73 L706.95,136.16 L707.55,135.59 L708.14,135.02 L708.73,134.45 L709.32,133.88 L709.92,133.32 L710.52,132.75 L711.11,132.19 L711.71,131.62 L712.31,131.06 L712.91,130.5 L713.51,129.94 L714.11,129.38 L714.71,128.82 L715.32,128.27 L715.92,127.71 L716.53,127.16 L717.13,126.6 L717.74,126.05 L718.35,125.5 L718.96,124.95 L719.57,124.4 L720.18,123.85 L720.79,123.31 L721.4,122.76 L722.02,122.22 L722.63,121.68 L723.25,121.13 L723.87,120.59 L724.49,120.06 L725.1,119.52 L725.72,118.98 L726.35,118.44 L726.97,117.91 L727.59,117.38 L728.22,116.84 L728.84,116.31 L729.47,115.78 L730.1,115.26 L730.73,114.73 L731.36,114.2 L731.99,113.68 L732.62,113.15 L733.25,112.63 L733.89,112.11 L734.52,111.59 L735.16,111.07 L735.8,110.56 L736.44,110.04 L737.08,109.52 L737.72,109.01 L738.36,108.5 L739.01,107.99 L739.65,107.48 L740.3,106.97 L740.95,106.46 L741.6,105.96 L742.25,105.45 L742.9,104.95 L743.55,104.45 L744.2,103.95 L744.86,103.45 L745.51,102.95 L746.17,102.45 L746.83,101.95 L747.49,101.46 L748.15,100.97 L748.81,100.48 L749.48,99.99 L750.14,99.5 L750.81,99.01 L751.47,98.52 L752.14,98.04 L752.81,97.55 L753.48,97.07 L754.16,96.59 L754.83,96.11 L755.51,95.63 L756.18,95.15 L756.86,94.68 L757.54,94.2 L758.22,93.73 L758.9,93.26 L759.59,92.79 L760.27,92.32 L760.96,91.85 L761.65,91.39 L762.34,90.92 L763.03,90.46 L763.72,90 L764.41,89.53 L765.11,89.08 L765.8,88.62 L766.5,88.16 L767.2,87.71 L767.9,87.25 L768.6,86.8" fill="none" stroke="#08870a" stroke-width="1.45" stroke-linejoin="round" stroke-linecap="butt"/>
</g>
<line x1="148.06" y1="434.2" x2="148.06" y2="429.2" stroke="#000" stroke-width="1.4" stroke-linecap="butt"/>
<line x1="148.06" y1="35.35" x2="148.06" y2="40.35" stroke="#000" stroke-width="1.4" stroke-linecap="butt"/>
<line x1="180.72" y1="434.2" x2="180.72" y2="429.2" stroke="#000" stroke-width="1.4" stroke-linecap="butt"/>
<line x1="180.72" y1="35.35" x2="180.72" y2="40.35" stroke="#000" stroke-width="1.4" stroke-linecap="butt"/>
<line x1="213.38" y1="434.2" x2="213.38" y2="429.2" stroke="#000" stroke-width="1.4" stroke-linecap="butt"/>
<line x1="213.38" y1="35.35" x2="213.38" y2="40.35" stroke="#000" stroke-width="1.4" stroke-linecap="butt"/>
<line x1="246.04" y1="434.2" x2="246.04" y2="424.7" stroke="#000" stroke-width="1.4" stroke-linecap="butt"/>
<line x1="246.04" y1="35.35" x2="246.04" y2="44.85" stroke="#000" stroke-width="1.4" stroke-linecap="butt"/>
<line x1="278.7" y1="434.2" x2="278.7" y2="429.2" stroke="#000" stroke-width="1.4" stroke-linecap="butt"/>
<line x1="278.7" y1="35.35" x2="278.7" y2="40.35" stroke="#000" stroke-width="1.4" stroke-linecap="butt"/>
<line x1="311.36" y1="434.2" x2="311.36" y2="429.2" stroke="#000" stroke-width="1.4" stroke-linecap="butt"/>
<line x1="311.36" y1="35.35" x2="311.36" y2="40.35" stroke="#000" stroke-width="1.4" stroke-linecap="butt"/>
<line x1="344.02" y1="434.2" x2="344.02" y2="429.2" stroke="#000" stroke-width="1.4" stroke-linecap="butt"/>
<line x1="344.02" y1="35.35" x2="344.02" y2="40.35" stroke="#000" stroke-width="1.4" stroke-linecap="butt"/>
<line x1="376.68" y1="434.2" x2="376.68" y2="424.7" stroke="#000" stroke-width="1.4" stroke-linecap="butt"/>
<line x1="376.68" y1="35.35" x2="376.68" y2="44.85" stroke="#000" stroke-width="1.4" stroke-linecap="butt"/>
<line x1="409.34" y1="434.2" x2="409.34" y2="429.2" stroke="#000" stroke-width="1.4" stroke-linecap="butt"/>
<line x1="409.34" y1="35.35" x2="409.34" y2="40.35" stroke="#000" stroke-width="1.4" stroke-linecap="butt"/>
<line x1="442" y1="434.2" x2="442" y2="429.2" stroke="#000" stroke-width="1.4" stroke-linecap="butt"/>
<line x1="442" y1="35.35" x2="442" y2="40.35" stroke="#000" stroke-width="1.4" stroke-linecap="butt"/>
<line x1="474.66" y1="434.2" x2="474.66" y2="429.2" stroke="#000" stroke-width="1.4" stroke-linecap="butt"/>
<line x1="474.66" y1="35.35" x2="474.66" y2="40.35" stroke="#000" stroke-width="1.4" stroke-linecap="butt"/>
<line x1="507.32" y1="434.2" x2="507.32" y2="424.7" stroke="#000" stroke-width="1.4" stroke-linecap="butt"/>
<line x1="507.32" y1="35.35" x2="507.32" y2="44.85" stroke="#000" stroke-width="1.4" stroke-linecap="butt"/>
<line x1="539.98" y1="434.2" x2="539.98" y2="429.2" stroke="#000" stroke-width="1.4" stroke-linecap="butt"/>
<line x1="539.98" y1="35.35" x2="539.98" y2="40.35" stroke="#000" stroke-width="1.4" stroke-linecap="butt"/>
<line x1="572.64" y1="434.2" x2="572.64" y2="429.2" stroke="#000" stroke-width="1.4" stroke-linecap="butt"/>
<line x1="572.64" y1="35.35" x2="572.64" y2="40.35" stroke="#000" stroke-width="1.4" stroke-linecap="butt"/>
<line x1="605.3" y1="434.2" x2="605.3" y2="429.2" stroke="#000" stroke-width="1.4" stroke-linecap="butt"/>
<line x1="605.3" y1="35.35" x2="605.3" y2="40.35" stroke="#000" stroke-width="1.4" stroke-linecap="butt"/>
<line x1="637.96" y1="434.2" x2="637.96" y2="424.7" stroke="#000" stroke-width="1.4" stroke-linecap="butt"/>
<line x1="637.96" y1="35.35" x2="637.96" y2="44.85" stroke="#000" stroke-width="1.4" stroke-linecap="butt"/>
<line x1="670.62" y1="434.2" x2="670.62" y2="429.2" stroke="#000" stroke-width="1.4" stroke-linecap="butt"/>
<line x1="670.62" y1="35.35" x2="670.62" y2="40.35" stroke="#000" stroke-width="1.4" stroke-linecap="butt"/>
<line x1="703.28" y1="434.2" x2="703.28" y2="429.2" stroke="#000" stroke-width="1.4" stroke-linecap="butt"/>
<line x1="703.28" y1="35.35" x2="703.28" y2="40.35" stroke="#000" stroke-width="1.4" stroke-linecap="butt"/>
<line x1="735.94" y1="434.2" x2="735.94" y2="429.2" stroke="#000" stroke-width="1.4" stroke-linecap="butt"/>
<line x1="735.94" y1="35.35" x2="735.94" y2="40.35" stroke="#000" stroke-width="1.4" stroke-linecap="butt"/>
<line x1="115.4" y1="374.17" x2="120.4" y2="374.17" stroke="#000" stroke-width="1.4" stroke-linecap="butt"/>
<line x1="115.4" y1="339.05" x2="120.4" y2="339.05" stroke="#000" stroke-width="1.4" stroke-linecap="butt"/>
<line x1="115.4" y1="314.13" x2="120.4" y2="314.13" stroke="#000" stroke-width="1.4" stroke-linecap="butt"/>
<line x1="115.4" y1="294.81" x2="120.4" y2="294.81" stroke="#000" stroke-width="1.4" stroke-linecap="butt"/>
<line x1="115.4" y1="279.02" x2="120.4" y2="279.02" stroke="#000" stroke-width="1.4" stroke-linecap="butt"/>
<line x1="115.4" y1="265.67" x2="120.4" y2="265.67" stroke="#000" stroke-width="1.4" stroke-linecap="butt"/>
<line x1="115.4" y1="254.1" x2="120.4" y2="254.1" stroke="#000" stroke-width="1.4" stroke-linecap="butt"/>
<line x1="115.4" y1="243.9" x2="120.4" y2="243.9" stroke="#000" stroke-width="1.4" stroke-linecap="butt"/>
<line x1="115.4" y1="234.78" x2="124.9" y2="234.78" stroke="#000" stroke-width="1.4" stroke-linecap="butt"/>
<line x1="115.4" y1="174.74" x2="120.4" y2="174.74" stroke="#000" stroke-width="1.4" stroke-linecap="butt"/>
<line x1="115.4" y1="139.63" x2="120.4" y2="139.63" stroke="#000" stroke-width="1.4" stroke-linecap="butt"/>
<line x1="115.4" y1="114.71" x2="120.4" y2="114.71" stroke="#000" stroke-width="1.4" stroke-linecap="butt"/>
<line x1="115.4" y1="95.38" x2="120.4" y2="95.38" stroke="#000" stroke-width="1.4" stroke-linecap="butt"/>
<line x1="115.4" y1="79.59" x2="120.4" y2="79.59" stroke="#000" stroke-width="1.4" stroke-linecap="butt"/>
<line x1="115.4" y1="66.24" x2="120.4" y2="66.24" stroke="#000" stroke-width="1.4" stroke-linecap="butt"/>
<line x1="115.4" y1="54.68" x2="120.4" y2="54.68" stroke="#000" stroke-width="1.4" stroke-linecap="butt"/>
<line x1="115.4" y1="44.48" x2="120.4" y2="44.48" stroke="#000" stroke-width="1.4" stroke-linecap="butt"/>
<line x1="768.6" y1="354.43" x2="759.1" y2="354.43" stroke="#000" stroke-width="1.4" stroke-linecap="butt"/>
<line x1="768.6" y1="274.66" x2="759.1" y2="274.66" stroke="#000" stroke-width="1.4" stroke-linecap="butt"/>
<line x1="768.6" y1="194.89" x2="759.1" y2="194.89" stroke="#000" stroke-width="1.4" stroke-linecap="butt"/>
<line x1="768.6" y1="115.12" x2="759.1" y2="115.12" stroke="#000" stroke-width="1.4" stroke-linecap="butt"/>
<rect x="115.4" y="35.35" width="653.2" height="398.85" fill="none" stroke="#000" stroke-width="1.6"/>
<clipPath id="cb"><rect x="115.4" y="542.7" width="653.2" height="399.15"/></clipPath>
<g clip-path="url(#cb)">
<path d="M115.6,941.8 L115.79,940.65 L115.98,939.5 L116.17,938.34 L116.36,937.18 L116.55,936.01 L116.75,934.83 L116.94,933.66 L117.14,932.47 L117.33,931.29 L117.53,930.1 L117.73,928.9 L117.94,927.71 L118.14,926.51 L118.35,925.3 L118.56,924.1 L118.77,922.89 L118.99,921.67 L119.2,920.46 L119.42,919.24 L119.65,918.03 L119.88,916.81 L120.11,915.58 L120.34,914.36 L120.58,913.14 L120.83,911.91 L121.08,910.69 L121.33,909.46 L121.58,908.23 L121.85,907.01 L122.11,905.78 L122.39,904.55 L122.66,903.33 L122.95,902.1 L123.23,900.88 L123.53,899.66 L123.83,898.43 L124.14,897.21 L124.45,895.99 L124.77,894.78 L125.09,893.56 L125.43,892.35 L125.77,891.14 L126.11,889.93 L126.47,888.73 L126.83,887.52 L127.2,886.32 L127.57,885.13 L127.96,883.94 L128.35,882.75 L128.75,881.57 L129.16,880.39 L129.58,879.21 L130.01,878.04 L130.45,876.87 L130.89,875.71 L131.35,874.56 L131.81,873.41 L132.29,872.26 L132.77,871.12 L133.27,869.99 L133.77,868.86 L134.29,867.74 L134.82,866.63 L135.36,865.52 L135.91,864.42 L136.47,863.33 L137.05,862.24 L137.63,861.16 L138.23,860.09 L138.84,859.03 L139.47,857.97 L140.11,856.93 L140.76,855.89 L141.42,854.86 L142.1,853.84 L142.79,852.83 L143.5,851.83 L144.22,850.84 L144.95,849.86 L145.7,848.88 L146.47,847.92 L147.25,846.97 L148.05,846.03 L148.86,845.1 L149.68,844.18 L150.53,843.27 L151.38,842.38 L152.26,841.5 L153.14,840.63 L154.04,839.78 L154.96,838.95 L155.89,838.13 L156.83,837.32 L157.79,836.54 L158.76,835.77 L159.75,835.02 L160.75,834.28 L161.76,833.57 L162.79,832.88 L163.83,832.21 L164.88,831.56 L165.94,830.93 L167.02,830.32 L168.11,829.74 L169.21,829.18 L170.32,828.64 L171.44,828.12 L172.58,827.62 L173.72,827.14 L174.87,826.69 L176.02,826.25 L177.19,825.84 L178.36,825.44 L179.54,825.07 L180.72,824.71 L181.91,824.37 L183.1,824.05 L184.29,823.75 L185.49,823.47 L186.69,823.2 L187.9,822.95 L189.1,822.73 L190.3,822.51 L191.51,822.32 L192.71,822.14 L193.92,821.97 L195.12,821.83 L196.33,821.7 L197.53,821.58 L198.74,821.48 L199.94,821.39 L201.15,821.32 L202.35,821.26 L203.56,821.22 L204.76,821.19 L205.97,821.17 L207.17,821.17 L208.38,821.18 L209.58,821.2 L210.79,821.23 L211.99,821.28 L213.2,821.33 L214.4,821.4 L215.61,821.48 L216.81,821.57 L218.02,821.67 L219.22,821.78 L220.43,821.89 L221.63,822.02 L222.84,822.16 L224.04,822.31 L225.25,822.46 L226.45,822.63 L227.66,822.8 L228.86,822.98 L230.07,823.16 L231.27,823.35 L232.48,823.55 L233.68,823.76 L234.89,823.97 L236.09,824.19 L237.3,824.42 L238.5,824.64 L239.71,824.88 L240.91,825.12 L242.12,825.36 L243.32,825.61 L244.53,825.86 L245.73,826.11 L246.94,826.37 L248.14,826.63 L249.35,826.89 L250.55,827.16 L251.76,827.43 L252.96,827.7 L254.17,827.97 L255.37,828.24 L256.58,828.51 L257.78,828.78 L258.99,829.06 L260.19,829.33 L261.4,829.6 L262.6,829.87 L263.81,830.15 L265.01,830.42 L266.22,830.69 L267.42,830.96 L268.63,831.23 L269.83,831.5 L271.04,831.77 L272.24,832.04 L273.45,832.31 L274.65,832.58 L275.86,832.85 L277.07,833.12 L278.27,833.39 L279.48,833.66 L280.68,833.93 L281.89,834.2 L283.09,834.47 L284.3,834.74 L285.5,835.01 L286.71,835.27 L287.91,835.54 L289.12,835.81 L290.33,836.08 L291.53,836.34 L292.74,836.61 L293.94,836.88 L295.15,837.14 L296.35,837.41 L297.56,837.68 L298.77,837.94 L299.97,838.21 L301.18,838.47 L302.38,838.74 L303.59,839.01 L304.79,839.27 L306,839.54 L307.21,839.8 L308.41,840.07 L309.62,840.33 L310.82,840.6 L312.03,840.86 L313.24,841.13 L314.44,841.39 L315.65,841.65 L316.85,841.92 L318.06,842.18 L319.27,842.45 L320.47,842.71 L321.68,842.97 L322.89,843.24 L324.09,843.5 L325.3,843.76 L326.5,844.03 L327.71,844.29 L328.92,844.55 L330.12,844.82 L331.33,845.08 L332.54,845.34 L333.74,845.61 L334.95,845.87 L336.16,846.13 L337.36,846.39 L338.57,846.66 L339.78,846.92 L340.98,847.18 L342.19,847.44 L343.4,847.71 L344.6,847.97 L345.81,848.23 L347.02,848.49 L348.23,848.75 L349.43,849.01 L350.64,849.27 L351.85,849.54 L353.05,849.8 L354.26,850.06 L355.47,850.32 L356.68,850.58 L357.88,850.84 L359.09,851.1 L360.3,851.36 L361.51,851.62 L362.71,851.88 L363.92,852.13 L365.13,852.39 L366.34,852.65 L367.54,852.91 L368.75,853.17 L369.96,853.43 L371.17,853.68 L372.37,853.94 L373.58,854.2 L374.79,854.45 L376,854.71 L377.21,854.97 L378.41,855.22 L379.62,855.48 L380.83,855.73 L382.04,855.99 L383.25,856.24 L384.45,856.5 L385.66,856.75 L386.87,857 L388.08,857.26 L389.29,857.51 L390.5,857.76 L391.71,858.02 L392.91,858.27 L394.12,858.52 L395.33,858.77 L396.54,859.02 L397.75,859.27 L398.96,859.52 L400.17,859.77 L401.38,860.02 L402.58,860.27 L403.79,860.52 L405,860.77 L406.21,861.01 L407.42,861.26 L408.63,861.51 L409.84,861.75 L411.05,862 L412.26,862.24 L413.47,862.49 L414.68,862.73 L415.89,862.98 L417.1,863.22 L418.31,863.47 L419.51,863.71 L420.72,863.95 L421.93,864.19 L423.14,864.43 L424.35,864.67 L425.56,864.91 L426.77,865.15 L427.98,865.39 L429.19,865.63 L430.4,865.87 L431.61,866.11 L432.82,866.34 L434.03,866.58 L435.25,866.82 L436.46,867.05 L437.67,867.29 L438.88,867.52 L440.09,867.75 L441.3,867.99 L442.51,868.22 L443.72,868.45 L444.93,868.68 L446.14,868.91 L447.35,869.14 L448.56,869.37 L449.77,869.6 L450.99,869.83 L452.2,870.06 L453.41,870.28 L454.62,870.51 L455.83,870.74 L457.04,870.96 L458.25,871.19 L459.46,871.41 L460.68,871.63 L461.89,871.86 L463.1,872.08 L464.31,872.3 L465.52,872.52 L466.73,872.74 L467.95,872.96 L469.16,873.18 L470.37,873.39 L471.58,873.61 L472.8,873.83 L474.01,874.04 L475.22,874.26 L476.43,874.47 L477.64,874.68 L478.86,874.9 L480.07,875.11 L481.28,875.32 L482.5,875.53 L483.71,875.74 L484.92,875.95 L486.13,876.15 L487.35,876.36 L488.56,876.57 L489.77,876.77 L490.99,876.98 L492.2,877.18 L493.41,877.38 L494.63,877.59 L495.84,877.79 L497.05,877.99 L498.27,878.19 L499.48,878.39 L500.69,878.58 L501.91,878.78 L503.12,878.98 L504.34,879.17 L505.55,879.37 L506.76,879.56 L507.98,879.75 L509.19,879.94 L510.41,880.14 L511.62,880.33 L512.83,880.51 L514.05,880.7 L515.26,880.89 L516.48,881.08 L517.69,881.26 L518.91,881.45 L520.12,881.63 L521.34,881.81 L522.55,881.99 L523.77,882.18 L524.98,882.36 L526.2,882.53 L527.41,882.71 L528.63,882.89 L529.84,883.07 L531.06,883.24 L532.28,883.41 L533.49,883.59 L534.71,883.76 L535.92,883.93 L537.14,884.1 L538.35,884.27 L539.57,884.44 L540.79,884.61 L542,884.78 L543.22,884.94 L544.44,885.11 L545.65,885.27 L546.87,885.44 L548.09,885.6 L549.3,885.76 L550.52,885.92 L551.74,886.08 L552.95,886.24 L554.17,886.4 L555.39,886.56 L556.6,886.72 L557.82,886.87 L559.04,887.03 L560.26,887.18 L561.47,887.34 L562.69,887.49 L563.91,887.64 L565.13,887.8 L566.34,887.95 L567.56,888.1 L568.78,888.25 L570,888.4 L571.22,888.54 L572.43,888.69 L573.65,888.84 L574.87,888.98 L576.09,889.13 L577.31,889.27 L578.53,889.42 L579.75,889.56 L580.96,889.7 L582.18,889.85 L583.4,889.99 L584.62,890.13 L585.84,890.27 L587.06,890.41 L588.28,890.54 L589.5,890.68 L590.72,890.82 L591.94,890.96 L593.16,891.09 L594.38,891.23 L595.6,891.36 L596.82,891.5 L598.04,891.63 L599.26,891.76 L600.48,891.9 L601.7,892.03 L602.92,892.16 L604.14,892.29 L605.36,892.42 L606.58,892.55 L607.8,892.68 L609.02,892.81 L610.24,892.94 L611.46,893.06 L612.68,893.19 L613.91,893.32 L615.13,893.44 L616.35,893.57 L617.57,893.69 L618.79,893.82 L620.01,893.94 L621.23,894.06 L622.46,894.19 L623.68,894.31 L624.9,894.43 L626.12,894.55 L627.34,894.67 L628.57,894.79 L629.79,894.91 L631.01,895.03 L632.23,895.15 L633.46,895.27 L634.68,895.39 L635.9,895.51 L637.13,895.62 L638.35,895.74 L639.57,895.86 L640.8,895.97 L642.02,896.09 L643.24,896.21 L644.47,896.32 L645.69,896.44 L646.91,896.55 L648.14,896.66 L649.36,896.78 L650.59,896.89 L651.81,897 L653.03,897.12 L654.26,897.23 L655.48,897.34 L656.71,897.45 L657.93,897.56 L659.16,897.67 L660.38,897.78 L661.61,897.9 L662.83,898.01 L664.06,898.11 L665.28,898.22 L666.51,898.33 L667.73,898.44 L668.96,898.55 L670.18,898.66 L671.41,898.77 L672.64,898.88 L673.86,898.98 L675.09,899.09 L676.32,899.2 L677.54,899.31 L678.77,899.41 L679.99,899.52 L681.22,899.62 L682.45,899.73 L683.67,899.84 L684.9,899.94 L686.13,900.05 L687.36,900.15 L688.58,900.26 L689.81,900.36 L691.04,900.47 L692.27,900.57 L693.49,900.68 L694.72,900.78 L695.95,900.89 L697.18,900.99 L698.41,901.09 L699.63,901.2 L700.86,901.3 L702.09,901.41 L703.32,901.51 L704.55,901.61 L705.78,901.72 L707.01,901.82 L708.24,901.92 L709.46,902.03 L710.69,902.13 L711.92,902.23 L713.15,902.34 L714.38,902.44 L715.61,902.54 L716.84,902.64 L718.07,902.75 L719.3,902.85 L720.53,902.95 L721.76,903.05 L722.99,903.16 L724.22,903.26 L725.45,903.36 L726.68,903.47 L727.92,903.57 L729.15,903.67 L730.38,903.77 L731.61,903.88 L732.84,903.98 L734.07,904.08 L735.3,904.18 L736.53,904.29 L737.77,904.39 L739,904.49 L740.23,904.6 L741.46,904.7 L742.7,904.8 L743.93,904.91 L745.16,905.01 L746.39,905.11 L747.63,905.22 L748.86,905.32 L750.09,905.42 L751.32,905.53 L752.56,905.63 L753.79,905.74 L755.02,905.84 L756.26,905.95 L757.49,906.05 L758.73,906.16 L759.96,906.26 L761.19,906.37 L762.43,906.47 L763.66,906.58 L764.9,906.68 L766.13,906.79 L767.37,906.89 L768.6,907" fill="none" stroke="#08870a" stroke-width="1.45" stroke-linejoin="round" stroke-linecap="butt"/>
<path d="M115.6,941.8 L115.7,940.17 L115.79,938.53 L115.89,936.9 L115.98,935.27 L116.07,933.64 L116.16,932.01 L116.25,930.38 L116.33,928.75 L116.42,927.12 L116.5,925.5 L116.58,923.87 L116.66,922.25 L116.74,920.62 L116.82,919 L116.9,917.37 L116.98,915.75 L117.06,914.13 L117.13,912.5 L117.21,910.88 L117.28,909.26 L117.36,907.64 L117.43,906.02 L117.5,904.4 L117.57,902.78 L117.65,901.17 L117.72,899.55 L117.79,897.93 L117.86,896.32 L117.94,894.7 L118.01,893.08 L118.08,891.47 L118.15,889.86 L118.22,888.24 L118.3,886.63 L118.37,885.02 L118.44,883.4 L118.52,881.79 L118.59,880.18 L118.67,878.57 L118.74,876.96 L118.82,875.35 L118.9,873.74 L118.97,872.13 L119.05,870.52 L119.13,868.91 L119.22,867.3 L119.3,865.7 L119.38,864.09 L119.47,862.48 L119.55,860.88 L119.64,859.27 L119.73,857.66 L119.82,856.06 L119.91,854.45 L120.01,852.85 L120.1,851.24 L120.2,849.64 L120.3,848.03 L120.4,846.43 L120.5,844.83 L120.61,843.22 L120.72,841.62 L120.83,840.02 L120.94,838.42 L121.05,836.81 L121.17,835.21 L121.29,833.61 L121.41,832.01 L121.53,830.41 L121.66,828.81 L121.79,827.2 L121.92,825.6 L122.06,824 L122.2,822.4 L122.34,820.8 L122.48,819.2 L122.63,817.6 L122.78,816 L122.93,814.4 L123.09,812.8 L123.25,811.2 L123.41,809.6 L123.58,808 L123.75,806.41 L123.92,804.81 L124.1,803.21 L124.28,801.61 L124.47,800.01 L124.66,798.41 L124.85,796.81 L125.05,795.21 L125.25,793.61 L125.46,792.01 L125.67,790.41 L125.88,788.82 L126.1,787.22 L126.32,785.62 L126.55,784.02 L126.78,782.42 L127.02,780.82 L127.26,779.22 L127.5,777.62 L127.75,776.02 L128.01,774.42 L128.27,772.82 L128.54,771.22 L128.81,769.62 L129.08,768.02 L129.36,766.42 L129.65,764.82 L129.94,763.22 L130.24,761.62 L130.54,760.02 L130.85,758.42 L131.16,756.82 L131.48,755.22 L131.8,753.62 L132.13,752.02 L132.47,750.42 L132.81,748.82 L133.15,747.22 L133.5,745.61 L133.85,744.01 L134.2,742.41 L134.56,740.81 L134.92,739.21 L135.29,737.61 L135.65,736.02 L136.02,734.42 L136.39,732.82 L136.76,731.22 L137.13,729.63 L137.51,728.03 L137.88,726.44 L138.26,724.84 L138.63,723.25 L139.01,721.66 L139.38,720.07 L139.75,718.48 L140.13,716.89 L140.5,715.3 L140.87,713.72 L141.24,712.14 L141.6,710.55 L141.96,708.97 L142.32,707.39 L142.68,705.81 L143.04,704.24 L143.39,702.66 L143.73,701.09 L144.08,699.52 L144.42,697.95 L144.75,696.39 L145.09,694.82 L145.43,693.26 L145.77,691.7 L146.1,690.14 L146.45,688.58 L146.8,687.03 L147.15,685.48 L147.51,683.93 L147.88,682.38 L148.25,680.84 L148.64,679.3 L149.04,677.76 L149.45,676.23 L149.87,674.69 L150.31,673.16 L150.76,671.64 L151.24,670.11 L151.72,668.59 L152.23,667.08 L152.76,665.56 L153.31,664.05 L153.88,662.54 L154.48,661.04 L155.1,659.54 L155.74,658.05 L156.41,656.56 L157.1,655.09 L157.82,653.63 L158.57,652.18 L159.35,650.75 L160.15,649.33 L160.99,647.93 L161.85,646.55 L162.74,645.19 L163.66,643.86 L164.62,642.55 L165.61,641.26 L166.63,640 L167.68,638.77 L168.77,637.57 L169.89,636.41 L171.05,635.28 L172.24,634.18 L173.47,633.12 L174.73,632.1 L176.03,631.11 L177.37,630.17 L178.74,629.28 L180.13,628.42 L181.55,627.62 L182.99,626.86 L184.46,626.15 L185.94,625.5 L187.44,624.89 L188.95,624.34 L190.47,623.85 L192,623.41 L193.54,623.03 L195.08,622.71 L196.62,622.46 L198.16,622.26 L199.7,622.13 L201.24,622.05 L202.78,622.02 L204.31,622.05 L205.85,622.13 L207.39,622.25 L208.93,622.43 L210.46,622.64 L211.99,622.9 L213.53,623.19 L215.06,623.52 L216.59,623.89 L218.12,624.29 L219.64,624.72 L221.17,625.18 L222.69,625.67 L224.21,626.18 L225.73,626.72 L227.25,627.29 L228.76,627.87 L230.27,628.48 L231.78,629.11 L233.28,629.76 L234.79,630.43 L236.29,631.12 L237.78,631.82 L239.27,632.54 L240.76,633.28 L242.25,634.02 L243.73,634.78 L245.21,635.55 L246.69,636.33 L248.16,637.12 L249.62,637.92 L251.08,638.72 L252.54,639.53 L253.99,640.34 L255.44,641.16 L256.89,641.97 L258.33,642.8 L259.76,643.62 L261.19,644.45 L262.62,645.28 L264.04,646.12 L265.46,646.95 L266.88,647.79 L268.29,648.63 L269.7,649.48 L271.1,650.33 L272.5,651.18 L273.9,652.03 L275.29,652.88 L276.68,653.74 L278.07,654.6 L279.45,655.46 L280.83,656.32 L282.21,657.19 L283.59,658.06 L284.96,658.92 L286.33,659.79 L287.7,660.67 L289.06,661.54 L290.43,662.41 L291.79,663.29 L293.15,664.17 L294.5,665.05 L295.86,665.93 L297.21,666.81 L298.56,667.69 L299.91,668.57 L301.26,669.46 L302.6,670.34 L303.95,671.23 L305.29,672.11 L306.63,673 L307.97,673.89 L309.31,674.77 L310.65,675.66 L311.99,676.55 L313.33,677.44 L314.66,678.33 L316,679.21 L317.33,680.1 L318.67,680.99 L320,681.88 L321.34,682.77 L322.67,683.65 L324.01,684.54 L325.34,685.43 L326.67,686.31 L328.01,687.2 L329.34,688.08 L330.68,688.97 L332.01,689.85 L333.35,690.73 L334.68,691.61 L336.02,692.49 L337.36,693.37 L338.7,694.25 L340.04,695.12 L341.38,696 L342.72,696.87 L344.07,697.74 L345.41,698.61 L346.76,699.48 L348.11,700.35 L349.45,701.21 L350.81,702.08 L352.16,702.94 L353.51,703.8 L354.87,704.65 L356.23,705.51 L357.59,706.36 L358.95,707.21 L360.32,708.06 L361.69,708.9 L363.06,709.75 L364.43,710.59 L365.8,711.43 L367.17,712.26 L368.55,713.1 L369.93,713.93 L371.31,714.76 L372.69,715.59 L374.08,716.41 L375.46,717.24 L376.85,718.06 L378.24,718.88 L379.63,719.69 L381.03,720.51 L382.42,721.32 L383.82,722.13 L385.22,722.94 L386.62,723.74 L388.02,724.55 L389.42,725.35 L390.83,726.15 L392.24,726.94 L393.65,727.74 L395.06,728.53 L396.47,729.32 L397.88,730.11 L399.3,730.89 L400.72,731.67 L402.13,732.45 L403.56,733.23 L404.98,734.01 L406.4,734.78 L407.83,735.55 L409.25,736.32 L410.68,737.09 L412.11,737.85 L413.54,738.61 L414.98,739.37 L416.41,740.13 L417.85,740.88 L419.29,741.63 L420.72,742.38 L422.16,743.13 L423.61,743.88 L425.05,744.62 L426.49,745.36 L427.94,746.1 L429.39,746.83 L430.84,747.56 L432.29,748.29 L433.74,749.02 L435.19,749.75 L436.65,750.47 L438.1,751.19 L439.56,751.91 L441.02,752.63 L442.48,753.34 L443.94,754.05 L445.4,754.76 L446.86,755.47 L448.33,756.17 L449.79,756.87 L451.26,757.57 L452.73,758.27 L454.2,758.96 L455.67,759.66 L457.14,760.34 L458.61,761.03 L460.08,761.72 L461.56,762.4 L463.04,763.08 L464.51,763.75 L465.99,764.43 L467.47,765.1 L468.95,765.77 L470.43,766.44 L471.91,767.1 L473.4,767.76 L474.88,768.42 L476.37,769.08 L477.85,769.73 L479.34,770.38 L480.83,771.03 L482.32,771.68 L483.81,772.32 L485.3,772.96 L486.79,773.6 L488.29,774.24 L489.78,774.87 L491.27,775.5 L492.77,776.13 L494.27,776.76 L495.76,777.38 L497.26,778 L498.76,778.62 L500.26,779.24 L501.76,779.85 L503.26,780.46 L504.76,781.07 L506.27,781.68 L507.77,782.28 L509.27,782.88 L510.78,783.48 L512.28,784.07 L513.79,784.66 L515.3,785.25 L516.81,785.84 L518.31,786.43 L519.82,787.01 L521.33,787.59 L522.84,788.17 L524.36,788.74 L525.87,789.32 L527.38,789.89 L528.9,790.45 L530.41,791.02 L531.93,791.58 L533.44,792.14 L534.96,792.7 L536.48,793.26 L537.99,793.81 L539.51,794.37 L541.03,794.91 L542.55,795.46 L544.07,796.01 L545.59,796.55 L547.12,797.09 L548.64,797.63 L550.16,798.16 L551.69,798.7 L553.21,799.23 L554.74,799.76 L556.26,800.28 L557.79,800.81 L559.32,801.33 L560.84,801.85 L562.37,802.37 L563.9,802.88 L565.43,803.4 L566.96,803.91 L568.5,804.42 L570.03,804.93 L571.56,805.43 L573.09,805.94 L574.63,806.44 L576.16,806.94 L577.7,807.43 L579.23,807.93 L580.77,808.42 L582.3,808.91 L583.84,809.4 L585.38,809.89 L586.92,810.38 L588.46,810.86 L590,811.34 L591.54,811.82 L593.08,812.3 L594.62,812.77 L596.16,813.25 L597.71,813.72 L599.25,814.19 L600.79,814.66 L602.34,815.12 L603.88,815.59 L605.43,816.05 L606.97,816.51 L608.52,816.97 L610.07,817.43 L611.62,817.88 L613.16,818.34 L614.71,818.79 L616.26,819.24 L617.81,819.69 L619.36,820.13 L620.91,820.58 L622.46,821.02 L624.02,821.46 L625.57,821.9 L627.12,822.34 L628.68,822.78 L630.23,823.21 L631.78,823.64 L633.34,824.08 L634.9,824.51 L636.45,824.93 L638.01,825.36 L639.56,825.79 L641.12,826.21 L642.68,826.63 L644.24,827.05 L645.8,827.47 L647.36,827.89 L648.92,828.31 L650.48,828.72 L652.04,829.13 L653.6,829.55 L655.16,829.96 L656.72,830.36 L658.29,830.77 L659.85,831.18 L661.41,831.58 L662.98,831.98 L664.54,832.39 L666.11,832.79 L667.67,833.19 L669.24,833.58 L670.8,833.98 L672.37,834.37 L673.94,834.77 L675.5,835.16 L677.07,835.55 L678.64,835.94 L680.21,836.33 L681.78,836.72 L683.35,837.1 L684.92,837.49 L686.49,837.87 L688.06,838.25 L689.63,838.63 L691.2,839.01 L692.77,839.39 L694.34,839.77 L695.92,840.14 L697.49,840.52 L699.06,840.89 L700.64,841.27 L702.21,841.64 L703.78,842.01 L705.36,842.38 L706.93,842.75 L708.51,843.11 L710.08,843.48 L711.66,843.85 L713.24,844.21 L714.81,844.57 L716.39,844.94 L717.97,845.3 L719.55,845.66 L721.12,846.02 L722.7,846.38 L724.28,846.73 L725.86,847.09 L727.44,847.44 L729.02,847.8 L730.6,848.15 L732.18,848.51 L733.76,848.86 L735.34,849.21 L736.92,849.56 L738.5,849.91 L740.08,850.26 L741.67,850.6 L743.25,850.95 L744.83,851.3 L746.41,851.64 L748,851.99 L749.58,852.33 L751.16,852.67 L752.75,853.02 L754.33,853.36 L755.92,853.7 L757.5,854.04 L759.09,854.38 L760.67,854.72 L762.26,855.05 L763.84,855.39 L765.43,855.73 L767.01,856.06 L768.6,856.4" fill="none" stroke="#cc0000" stroke-width="1.45" stroke-linejoin="round" stroke-linecap="butt"/>
</g>
<line x1="156.23" y1="941.85" x2="156.23" y2="936.85" stroke="#000" stroke-width="1.4" stroke-linecap="butt"/>
<line x1="156.23" y1="542.7" x2="156.23" y2="547.7" stroke="#000" stroke-width="1.4" stroke-linecap="butt"/>
<line x1="197.05" y1="941.85" x2="197.05" y2="932.35" stroke="#000" stroke-width="1.4" stroke-linecap="butt"/>
<line x1="197.05" y1="542.7" x2="197.05" y2="552.2" stroke="#000" stroke-width="1.4" stroke-linecap="butt"/>
<line x1="237.88" y1="941.85" x2="237.88" y2="936.85" stroke="#000" stroke-width="1.4" stroke-linecap="butt"/>
<line x1="237.88" y1="542.7" x2="237.88" y2="547.7" stroke="#000" stroke-width="1.4" stroke-linecap="butt"/>
<line x1="278.7" y1="941.85" x2="278.7" y2="932.35" stroke="#000" stroke-width="1.4" stroke-linecap="butt"/>
<line x1="278.7" y1="542.7" x2="278.7" y2="552.2" stroke="#000" stroke-width="1.4" stroke-linecap="butt"/>
<line x1="319.52" y1="941.85" x2="319.52" y2="936.85" stroke="#000" stroke-width="1.4" stroke-linecap="butt"/>
<line x1="319.52" y1="542.7" x2="319.52" y2="547.7" stroke="#000" stroke-width="1.4" stroke-linecap="butt"/>
<line x1="360.35" y1="941.85" x2="360.35" y2="932.35" stroke="#000" stroke-width="1.4" stroke-linecap="butt"/>
<line x1="360.35" y1="542.7" x2="360.35" y2="552.2" stroke="#000" stroke-width="1.4" stroke-linecap="butt"/>
<line x1="401.18" y1="941.85" x2="401.18" y2="936.85" stroke="#000" stroke-width="1.4" stroke-linecap="butt"/>
<line x1="401.18" y1="542.7" x2="401.18" y2="547.7" stroke="#000" stroke-width="1.4" stroke-linecap="butt"/>
<line x1="442" y1="941.85" x2="442" y2="932.35" stroke="#000" stroke-width="1.4" stroke-linecap="butt"/>
<line x1="442" y1="542.7" x2="442" y2="552.2" stroke="#000" stroke-width="1.4" stroke-linecap="butt"/>
<line x1="482.83" y1="941.85" x2="482.83" y2="936.85" stroke="#000" stroke-width="1.4" stroke-linecap="butt"/>
<line x1="482.83" y1="542.7" x2="482.83" y2="547.7" stroke="#000" stroke-width="1.4" stroke-linecap="butt"/>
<line x1="523.65" y1="941.85" x2="523.65" y2="932.35" stroke="#000" stroke-width="1.4" stroke-linecap="butt"/>
<line x1="523.65" y1="542.7" x2="523.65" y2="552.2" stroke="#000" stroke-width="1.4" stroke-linecap="butt"/>
<line x1="564.48" y1="941.85" x2="564.48" y2="936.85" stroke="#000" stroke-width="1.4" stroke-linecap="butt"/>
<line x1="564.48" y1="542.7" x2="564.48" y2="547.7" stroke="#000" stroke-width="1.4" stroke-linecap="butt"/>
<line x1="605.3" y1="941.85" x2="605.3" y2="932.35" stroke="#000" stroke-width="1.4" stroke-linecap="butt"/>
<line x1="605.3" y1="542.7" x2="605.3" y2="552.2" stroke="#000" stroke-width="1.4" stroke-linecap="butt"/>
<line x1="646.12" y1="941.85" x2="646.12" y2="936.85" stroke="#000" stroke-width="1.4" stroke-linecap="butt"/>
<line x1="646.12" y1="542.7" x2="646.12" y2="547.7" stroke="#000" stroke-width="1.4" stroke-linecap="butt"/>
<line x1="686.95" y1="941.85" x2="686.95" y2="932.35" stroke="#000" stroke-width="1.4" stroke-linecap="butt"/>
<line x1="686.95" y1="542.7" x2="686.95" y2="552.2" stroke="#000" stroke-width="1.4" stroke-linecap="butt"/>
<line x1="727.77" y1="941.85" x2="727.77" y2="936.85" stroke="#000" stroke-width="1.4" stroke-linecap="butt"/>
<line x1="727.77" y1="542.7" x2="727.77" y2="547.7" stroke="#000" stroke-width="1.4" stroke-linecap="butt"/>
<line x1="115.4" y1="901.94" x2="120.4" y2="901.94" stroke="#000" stroke-width="1.4" stroke-linecap="butt"/>
<line x1="768.6" y1="901.94" x2="763.6" y2="901.94" stroke="#000" stroke-width="1.4" stroke-linecap="butt"/>
<line x1="115.4" y1="862.02" x2="120.4" y2="862.02" stroke="#000" stroke-width="1.4" stroke-linecap="butt"/>
<line x1="768.6" y1="862.02" x2="763.6" y2="862.02" stroke="#000" stroke-width="1.4" stroke-linecap="butt"/>
<line x1="115.4" y1="822.11" x2="120.4" y2="822.11" stroke="#000" stroke-width="1.4" stroke-linecap="butt"/>
<line x1="768.6" y1="822.11" x2="763.6" y2="822.11" stroke="#000" stroke-width="1.4" stroke-linecap="butt"/>
<line x1="115.4" y1="782.19" x2="124.9" y2="782.19" stroke="#000" stroke-width="1.4" stroke-linecap="butt"/>
<line x1="768.6" y1="782.19" x2="759.1" y2="782.19" stroke="#000" stroke-width="1.4" stroke-linecap="butt"/>
<line x1="115.4" y1="742.28" x2="120.4" y2="742.28" stroke="#000" stroke-width="1.4" stroke-linecap="butt"/>
<line x1="768.6" y1="742.28" x2="763.6" y2="742.28" stroke="#000" stroke-width="1.4" stroke-linecap="butt"/>
<line x1="115.4" y1="702.36" x2="120.4" y2="702.36" stroke="#000" stroke-width="1.4" stroke-linecap="butt"/>
<line x1="768.6" y1="702.36" x2="763.6" y2="702.36" stroke="#000" stroke-width="1.4" stroke-linecap="butt"/>
<line x1="115.4" y1="662.45" x2="120.4" y2="662.45" stroke="#000" stroke-width="1.4" stroke-linecap="butt"/>
<line x1="768.6" y1="662.45" x2="763.6" y2="662.45" stroke="#000" stroke-width="1.4" stroke-linecap="butt"/>
<line x1="115.4" y1="622.53" x2="124.9" y2="622.53" stroke="#000" stroke-width="1.4" stroke-linecap="butt"/>
<line x1="768.6" y1="622.53" x2="759.1" y2="622.53" stroke="#000" stroke-width="1.4" stroke-linecap="butt"/>
<line x1="115.4" y1="582.62" x2="120.4" y2="582.62" stroke="#000" stroke-width="1.4" stroke-linecap="butt"/>
<line x1="768.6" y1="582.62" x2="763.6" y2="582.62" stroke="#000" stroke-width="1.4" stroke-linecap="butt"/>
<rect x="115.4" y="542.7" width="653.2" height="399.15" fill="none" stroke="#000" stroke-width="1.6"/>
<text transform="matrix(2.8945,0,0,2.8400,106.76,463.1)" font-size="10" stroke="#fff" stroke-width="0.105">0</text>
<text transform="matrix(2.9268,0,0,2.8400,226.54,463.1)" font-size="10" stroke="#fff" stroke-width="0.104">0.2</text>
<text transform="matrix(2.8705,0,0,2.8400,357.2,463.1)" font-size="10" stroke="#fff" stroke-width="0.105">0.4</text>
<text transform="matrix(2.8691,0,0,2.8400,487.84,463.1)" font-size="10" stroke="#fff" stroke-width="0.105">0.6</text>
<text transform="matrix(2.8853,0,0,2.8400,618.48,463.1)" font-size="10" stroke="#fff" stroke-width="0.105">0.8</text>
<text transform="matrix(2.6745,0,0,2.8400,760.31,463.1)" font-size="10" stroke="#fff" stroke-width="0.109">1</text>
<text transform="matrix(2.8945,0,0,2.8400,778.04,439.95)" font-size="10" stroke="#fff" stroke-width="0.105">0</text>
<text transform="matrix(2.6745,0,0,2.8400,778.38,360.18)" font-size="10" stroke="#fff" stroke-width="0.109">1</text>
<text transform="matrix(2.8884,0,0,2.8400,778.45,280.41)" font-size="10" stroke="#fff" stroke-width="0.105">2</text>
<text transform="matrix(2.8669,0,0,2.8400,778.16,200.64)" font-size="10" stroke="#fff" stroke-width="0.105">3</text>
<text transform="matrix(2.7734,0,0,2.8400,778.35,120.87)" font-size="10" stroke="#fff" stroke-width="0.107">4</text>
<text transform="matrix(2.8884,0,0,2.8400,778.06,41.1)" font-size="10" stroke="#fff" stroke-width="0.105">5</text>
<text transform="matrix(2.8631,0,0,2.8400,45.32,41.35)" font-size="10" stroke="#fff" stroke-width="0.105">10</text>
<line x1="75.3" y1="25.75" x2="88.5" y2="25.75" stroke="#000" stroke-width="0.95" stroke-linecap="butt"/>
<text transform="matrix(2.2314,0,0,2.0600,90.34,31.25)" font-size="10" stroke="#fff" stroke-width="0.140">5</text>
<text transform="matrix(2.8631,0,0,2.8400,45.32,240.78)" font-size="10" stroke="#fff" stroke-width="0.105">10</text>
<line x1="75.3" y1="225.18" x2="88.5" y2="225.18" stroke="#000" stroke-width="0.95" stroke-linecap="butt"/>
<text transform="matrix(2.1797,0,0,2.0600,90.56,230.68)" font-size="10" stroke="#fff" stroke-width="0.142">6</text>
<text transform="matrix(2.8631,0,0,2.8400,45.32,440.2)" font-size="10" stroke="#fff" stroke-width="0.105">10</text>
<line x1="75.3" y1="424.6" x2="88.5" y2="424.6" stroke="#000" stroke-width="0.95" stroke-linecap="butt"/>
<text transform="matrix(2.3802,0,0,2.0600,89.71,430.1)" font-size="10" stroke="#fff" stroke-width="0.135">7</text>
<text transform="matrix(2.8945,0,0,2.8400,106.76,970.75)" font-size="10" stroke="#fff" stroke-width="0.105">0</text>
<text transform="matrix(2.8935,0,0,2.8400,177.56,970.75)" font-size="10" stroke="#fff" stroke-width="0.105">0.5</text>
<text transform="matrix(2.6745,0,0,2.8400,270.41,970.75)" font-size="10" stroke="#fff" stroke-width="0.109">1</text>
<text transform="matrix(2.8799,0,0,2.8400,341.03,970.75)" font-size="10" stroke="#fff" stroke-width="0.105">1.5</text>
<text transform="matrix(2.8884,0,0,2.8400,433.77,970.75)" font-size="10" stroke="#fff" stroke-width="0.105">2</text>
<text transform="matrix(2.8586,0,0,2.8400,504.59,970.75)" font-size="10" stroke="#fff" stroke-width="0.105">2.5</text>
<text transform="matrix(2.8669,0,0,2.8400,596.79,970.75)" font-size="10" stroke="#fff" stroke-width="0.105">3</text>
<text transform="matrix(2.8840,0,0,2.8400,667.58,970.75)" font-size="10" stroke="#fff" stroke-width="0.105">3.5</text>
<text transform="matrix(2.7734,0,0,2.8400,760.27,970.75)" font-size="10" stroke="#fff" stroke-width="0.107">4</text>
<text transform="matrix(2.8945,0,0,2.8400,88.04,947.65)" font-size="10" stroke="#fff" stroke-width="0.105">0</text>
<text transform="matrix(2.6745,0,0,2.8400,88.38,787.99)" font-size="10" stroke="#fff" stroke-width="0.109">1</text>
<text transform="matrix(2.8884,0,0,2.8400,88.45,628.33)" font-size="10" stroke="#fff" stroke-width="0.105">2</text>
<path d="M739.4,42 A18.3,18.3 0 0,0 739.4,69.1 A21.7,21.7 0 0,1 739.4,42Z" fill="#000" stroke="#000" stroke-width="0.8" stroke-linejoin="round"/>
<text transform="matrix(3.1008,0,0,2.8333,741.37,62.62)" font-size="10" stroke="#fff" stroke-width="0.101">a</text>
<path d="M757.5,42 A17.91,17.91 0 0,1 757.5,69.1 A21.02,21.02 0 0,0 757.5,42Z" fill="#000" stroke="#000" stroke-width="0.8" stroke-linejoin="round"/>
<path d="M735.5,551.7 A17.91,17.91 0 0,0 735.5,578.8 A21.02,21.02 0 0,1 735.5,551.7Z" fill="#000" stroke="#000" stroke-width="0.8" stroke-linejoin="round"/>
<text transform="matrix(2.8058,0,0,2.7867,738.8,572.52)" font-size="10" stroke="#fff" stroke-width="0.107">b</text>
<path d="M754.6,551.7 A17.54,17.54 0 0,1 754.6,578.8 A20.4,20.4 0 0,0 754.6,551.7Z" fill="#000" stroke="#000" stroke-width="0.8" stroke-linejoin="round"/>
<text transform="matrix(3.0099,0,0,2.8200,362.9,100.9)" font-size="10" fill="#cc0000" stroke="#fff" stroke-width="0.103">Troullier–Martins</text>
<line x1="396.5" y1="114.75" x2="546.8" y2="114.75" stroke="#cc0000" stroke-width="1.45" stroke-linecap="butt"/>
<path d="M413.9,109.9 L396.6,114.75 L413.9,119.6" fill="none" stroke="#cc0000" stroke-width="1.45" stroke-linecap="round" stroke-linejoin="round"/>
<text transform="matrix(3.1311,0,0,2.8643,630.47,150.11)" font-size="10" fill="#08870a" stroke="#fff" stroke-width="0.100">UTP</text>
<line x1="634.7" y1="158.35" x2="681" y2="158.35" stroke="#08870a" stroke-width="1.45" stroke-linecap="butt"/>
<path d="M648.6,154.45 L634.8,158.35 L648.6,162.25" fill="none" stroke="#08870a" stroke-width="1.45" stroke-linecap="round" stroke-linejoin="round"/>
<text transform="matrix(2.6170,0,0,2.6488,167.2,205.65)" font-size="10" font-style="italic" fill="#858585" stroke="#fff" stroke-width="0.114">g</text>
<path d="M190,184.9 A17.69,17.69 0 0,0 190,212.3 A20.5,20.5 0 0,1 190,184.9Z" fill="#858585" stroke="#858585" stroke-width="0.8" stroke-linejoin="round"/>
<text transform="matrix(3.2143,0,0,2.8316,193.73,205.5)" font-size="10" font-style="italic" fill="#858585" stroke="#fff" stroke-width="0.099">E</text>
<line x1="216.2" y1="212.2" x2="226" y2="185" stroke="#858585" stroke-width="1.1" stroke-linecap="butt"/>
<text transform="matrix(3.2143,0,0,2.8316,229.83,205.5)" font-size="10" font-style="italic" fill="#858585" stroke="#fff" stroke-width="0.099">E</text>
<text transform="matrix(2.3673,0,0,2.0357,248.89,209.8)" font-size="10" fill="#858585" stroke="#fff" stroke-width="0.137">F</text>
<path d="M265.2,184.9 A17.86,17.86 0 0,1 265.2,212.3 A20.8,20.8 0 0,0 265.2,184.9Z" fill="#858585" stroke="#858585" stroke-width="0.8" stroke-linejoin="round"/>
<line x1="249.3" y1="218.95" x2="189.9" y2="218.95" stroke="#858585" stroke-width="1.45" stroke-linecap="butt"/>
<path d="M231.9,214.4 L249.2,218.95 L231.9,223.5" fill="none" stroke="#858585" stroke-width="1.45" stroke-linecap="round" stroke-linejoin="round"/>
<g transform="rotate(-90)">
<text transform="matrix(2.5106,0,0,2.7659,-287.3,819.6)" font-size="10" font-style="italic" stroke="#fff" stroke-width="0.114">g</text>
<g transform="rotate(90)"><path d="M798.7,263.5 A15.81,15.81 0 0,0 825.6,263.5 A17.6,17.6 0 0,1 798.7,263.5Z" fill="#000" stroke="#000" stroke-width="0.8" stroke-linejoin="round"/></g>
<text transform="matrix(3.2143,0,0,2.8469,-260.87,819.5)" font-size="10" font-style="italic" stroke="#fff" stroke-width="0.099">E</text>
<text transform="matrix(3.2308,0,0,2.8469,-224.27,819.5)" font-size="10" font-style="italic" stroke="#fff" stroke-width="0.099">E</text>
<text transform="matrix(2.4286,0,0,2.0357,-205.33,824.1)" font-size="10" stroke="#fff" stroke-width="0.135">F</text>
<g transform="rotate(90)"><path d="M798.7,189.4 A16.56,16.56 0 0,1 825.6,189.4 A18.83,18.83 0 0,0 798.7,189.4Z" fill="#000" stroke="#000" stroke-width="0.8" stroke-linejoin="round"/></g>
</g>
<line x1="825.5" y1="238.9" x2="798.8" y2="229.3" stroke="#000" stroke-width="1.1" stroke-linecap="butt"/>
<text transform="matrix(3.3297,0,0,2.8622,406.04,496.9)" font-size="10" font-style="italic" stroke="#fff" stroke-width="0.097">E</text>
<line x1="428.5" y1="503.4" x2="438.5" y2="476.7" stroke="#000" stroke-width="1.1" stroke-linecap="butt"/>
<text transform="matrix(3.3462,0,0,2.8622,441.85,496.9)" font-size="10" font-style="italic" stroke="#fff" stroke-width="0.097">E</text>
<text transform="matrix(2.4490,0,0,2.0663,461.97,501.3)" font-size="10" stroke="#fff" stroke-width="0.133">F</text>
<text transform="matrix(3.1860,0,0,2.7837,413.34,1004.4)" font-size="10" font-style="italic" stroke="#fff" stroke-width="0.101">k</text>
<text transform="matrix(2.4694,0,0,1.9898,428.16,1008.7)" font-size="10" stroke="#fff" stroke-width="0.135">F</text>
<text transform="matrix(3.2547,0,0,2.5957,442.6,1004.4)" font-size="10" font-style="italic" stroke="#fff" stroke-width="0.103">r</text>
<text transform="matrix(2.2969,0,0,2.1429,455.86,1009.49)" font-size="10" stroke="#fff" stroke-width="0.135">0</text>
<g transform="translate(442.3,741.6) rotate(19.5)">
<text transform="matrix(3.0099,0,0,2.8200,-0.5,0)" font-size="10" fill="#cc0000" stroke="#fff" stroke-width="0.103">Troullier–Martins</text>
</g>
<g transform="translate(506.6,863.8) rotate(10)">
<text transform="matrix(3.1311,0,0,2.8945,-0.63,0.01)" font-size="10" fill="#08870a" stroke="#fff" stroke-width="0.100">UTP</text>
</g>
<line x1="14.8" y1="390.7" x2="42.3" y2="390.7" stroke="#000" stroke-width="1.1" stroke-linecap="butt"/>
<line x1="14.8" y1="76.45" x2="42.3" y2="76.45" stroke="#000" stroke-width="1.1" stroke-linecap="butt"/>
<line x1="28.5" y1="221.3" x2="28.5" y2="237.9" stroke="#000" stroke-width="1.05" stroke-linecap="butt"/>
<g transform="rotate(-90)">
<text transform="matrix(2.5299,0,0,2.8873,-386.06,35.91)" font-size="10" font-style="italic" stroke="#fff" stroke-width="0.111">δ</text>
<text transform="matrix(2.2671,0,0,1.9632,-373.88,39.71)" font-size="10" stroke="#fff" stroke-width="0.142">pseudo,1</text>
<g transform="rotate(90)"><path d="M15.2,281.6 A18.37,18.37 0 0,0 41.8,281.6 A22.1,22.1 0 0,1 15.2,281.6Z" fill="#000" stroke="#000" stroke-width="0.8" stroke-linejoin="round"/></g>
<text transform="matrix(3.2802,0,0,2.9388,-278.46,35.8)" font-size="10" font-style="italic" stroke="#fff" stroke-width="0.097">E</text>
<g transform="rotate(90)"><path d="M15.2,255.3 A20.5,20.5 0 0,1 41.8,255.3 A26.06,26.06 0 0,0 15.2,255.3Z" fill="#000" stroke="#000" stroke-width="0.8" stroke-linejoin="round"/></g>
<text transform="matrix(2.5522,0,0,2.8873,-212.07,35.91)" font-size="10" font-style="italic" stroke="#fff" stroke-width="0.111">δ</text>
<text transform="matrix(2.2579,0,0,1.9632,-199.93,39.71)" font-size="10" stroke="#fff" stroke-width="0.142">dipole,1</text>
<g transform="rotate(90)"><path d="M15.2,115.6 A18.59,18.59 0 0,0 41.8,115.6 A22.51,22.51 0 0,1 15.2,115.6Z" fill="#000" stroke="#000" stroke-width="0.8" stroke-linejoin="round"/></g>
<text transform="matrix(3.2637,0,0,2.9388,-112.26,35.8)" font-size="10" font-style="italic" stroke="#fff" stroke-width="0.097">E</text>
<g transform="rotate(90)"><path d="M15.2,89.3 A19.34,19.34 0 0,1 41.8,89.3 A23.86,23.86 0 0,0 15.2,89.3Z" fill="#000" stroke="#000" stroke-width="0.8" stroke-linejoin="round"/></g>
</g>
<path d="M65.5,912.6 L63.3,909.7" fill="none" stroke="#000" stroke-width="0.9"/>
<path d="M63.4,909.4 L78.4,903.8" fill="none" stroke="#000" stroke-width="2.1"/>
<path d="M79.0,903.75 L46.4,887.65 L46.4,526.1" fill="none" stroke="#000" stroke-width="1.05" stroke-linejoin="miter"/>
<path d="M50.4,879.4 L63.25,884.2 L77.0,879.4" fill="none" stroke="#000" stroke-width="1.05"/>
<path d="M50.4,535.2 L63.25,529.9 L77.0,535.2" fill="none" stroke="#000" stroke-width="1.05"/>
<line x1="63.5" y1="701.1" x2="63.5" y2="718" stroke="#000" stroke-width="1.05" stroke-linecap="butt"/>
<g transform="rotate(-90)">
<text transform="matrix(2.7376,0,0,2.8966,-955.77,70.91)" font-size="10" stroke="#fff" stroke-width="0.107">10</text>
<text transform="matrix(2.1797,0,0,2.1386,-928.24,60.39)" font-size="10" stroke="#fff" stroke-width="0.139">6</text>
<g transform="rotate(90)"><path d="M50.2,868.2 A19.34,19.34 0 0,0 76.8,868.2 A23.86,23.86 0 0,1 50.2,868.2Z" fill="#000" stroke="#000" stroke-width="0.8" stroke-linejoin="round"/></g>
<text transform="matrix(2.4627,0,0,2.9155,-866.04,71.01)" font-size="10" font-style="italic" stroke="#fff" stroke-width="0.112">δ</text>
<text transform="matrix(2.2243,0,0,2.0074,-851.77,74.62)" font-size="10" stroke="#fff" stroke-width="0.142">pseudo,1</text>
<g transform="rotate(90)"><path d="M50.2,761.5 A18.59,18.59 0 0,0 76.8,761.5 A22.51,22.51 0 0,1 50.2,761.5Z" fill="#000" stroke="#000" stroke-width="0.8" stroke-linejoin="round"/></g>
<text transform="matrix(3.1978,0,0,2.9388,-757.37,70.8)" font-size="10" font-style="italic" stroke="#fff" stroke-width="0.098">E</text>
<g transform="rotate(90)"><path d="M50.2,735 A19.89,19.89 0 0,1 76.8,735 A24.9,24.9 0 0,0 50.2,735Z" fill="#000" stroke="#000" stroke-width="0.8" stroke-linejoin="round"/></g>
<text transform="matrix(2.4851,0,0,2.9155,-691.85,71.01)" font-size="10" font-style="italic" stroke="#fff" stroke-width="0.111">δ</text>
<text transform="matrix(2.2611,0,0,2.0074,-679.33,74.62)" font-size="10" stroke="#fff" stroke-width="0.141">dipole,1</text>
<g transform="rotate(90)"><path d="M50.2,595.5 A18.83,18.83 0 0,0 76.8,595.5 A22.94,22.94 0 0,1 50.2,595.5Z" fill="#000" stroke="#000" stroke-width="0.8" stroke-linejoin="round"/></g>
<text transform="matrix(3.2637,0,0,2.9388,-591.66,70.8)" font-size="10" font-style="italic" stroke="#fff" stroke-width="0.097">E</text>
<g transform="rotate(90)"><path d="M50.2,568.9 A19.89,19.89 0 0,1 76.8,568.9 A24.9,24.9 0 0,0 50.2,568.9Z" fill="#000" stroke="#000" stroke-width="0.8" stroke-linejoin="round"/></g>
<g transform="rotate(90)"><path d="M50.2,558 A19.89,19.89 0 0,1 76.8,558 A24.9,24.9 0 0,0 50.2,558Z" fill="#000" stroke="#000" stroke-width="0.8" stroke-linejoin="round"/></g>
<text transform="matrix(2.2066,0,0,2.1558,-549.26,62.4)" font-size="10" stroke="#fff" stroke-width="0.138">2</text>
</g>
</svg></body></html>
